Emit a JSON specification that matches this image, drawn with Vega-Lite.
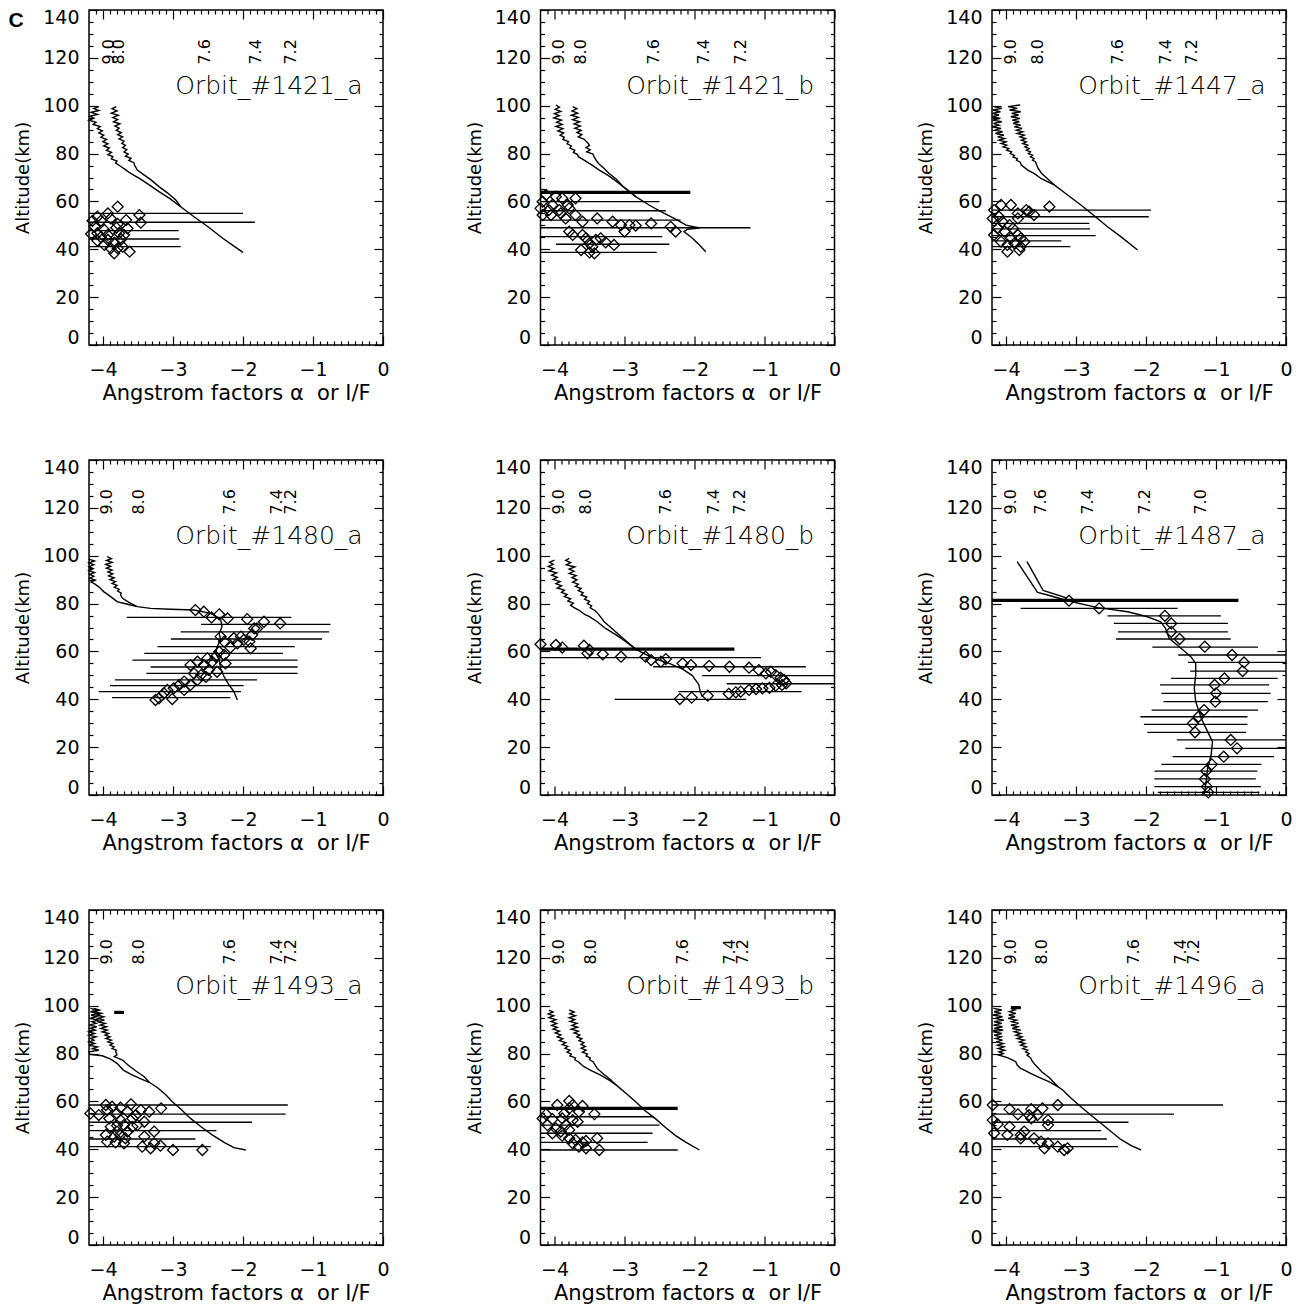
{
"$schema": "https://vega.github.io/schema/vega-lite/v6.json",
"background": "white",
"padding": {"left": 7, "top": 7, "right": 5, "bottom": 5},
"config": {
  "view": {"stroke": "black", "strokeWidth": 1.5},
  "font": "DejaVu Sans",
  "axis": {"domain": false, "grid": false, "tickColor": "black", "tickWidth": 1.2, "labelColor": "black", "titleColor": "black", "labelFont": "DejaVu Sans", "titleFont": "DejaVu Sans", "titleFontWeight": "normal", "labelOverlap": false, "labelFlush": false, "labelBound": false},
  "text": {"font": "DejaVu Sans", "color": "black"}
},
"datasets": {
"tag": [{"t": "C", "alpha": -5.24, "alt": 133}],
"titles": [
{"p":"1421a","t":"Orbit_#1421_a","alpha":-0.29,"alt":105},
{"p":"1421b","t":"Orbit_#1421_b","alpha":-0.29,"alt":105},
{"p":"1447a","t":"Orbit_#1447_a","alpha":-0.29,"alt":105},
{"p":"1480a","t":"Orbit_#1480_a","alpha":-0.29,"alt":105},
{"p":"1480b","t":"Orbit_#1480_b","alpha":-0.29,"alt":105},
{"p":"1487a","t":"Orbit_#1487_a","alpha":-0.29,"alt":105},
{"p":"1493a","t":"Orbit_#1493_a","alpha":-0.29,"alt":105},
{"p":"1493b","t":"Orbit_#1493_b","alpha":-0.29,"alt":105},
{"p":"1496a","t":"Orbit_#1496_a","alpha":-0.29,"alt":105}
],
"labels": [
{"p":"1421a","t":"9.0","alpha":-3.91,"alt":122.5},{"p":"1421a","t":"8.0","alpha":-3.77,"alt":122.5},{"p":"1421a","t":"7.6","alpha":-2.55,"alt":122.5},{"p":"1421a","t":"7.4","alpha":-1.81,"alt":122.5},{"p":"1421a","t":"7.2","alpha":-1.31,"alt":122.5},
{"p":"1421b","t":"9.0","alpha":-3.93,"alt":122.5},{"p":"1421b","t":"8.0","alpha":-3.62,"alt":122.5},{"p":"1421b","t":"7.6","alpha":-2.58,"alt":122.5},{"p":"1421b","t":"7.4","alpha":-1.86,"alt":122.5},{"p":"1421b","t":"7.2","alpha":-1.34,"alt":122.5},
{"p":"1447a","t":"9.0","alpha":-3.93,"alt":122.5},{"p":"1447a","t":"8.0","alpha":-3.55,"alt":122.5},{"p":"1447a","t":"7.6","alpha":-2.40,"alt":122.5},{"p":"1447a","t":"7.4","alpha":-1.71,"alt":122.5},{"p":"1447a","t":"7.2","alpha":-1.35,"alt":122.5},
{"p":"1480a","t":"9.0","alpha":-3.94,"alt":122.5},{"p":"1480a","t":"8.0","alpha":-3.49,"alt":122.5},{"p":"1480a","t":"7.6","alpha":-2.18,"alt":122.5},{"p":"1480a","t":"7.4","alpha":-1.51,"alt":122.5},{"p":"1480a","t":"7.2","alpha":-1.32,"alt":122.5},
{"p":"1480b","t":"9.0","alpha":-3.93,"alt":122.5},{"p":"1480b","t":"8.0","alpha":-3.55,"alt":122.5},{"p":"1480b","t":"7.6","alpha":-2.41,"alt":122.5},{"p":"1480b","t":"7.4","alpha":-1.72,"alt":122.5},{"p":"1480b","t":"7.2","alpha":-1.35,"alt":122.5},
{"p":"1487a","t":"9.0","alpha":-3.93,"alt":122.5},{"p":"1487a","t":"7.6","alpha":-3.50,"alt":122.5},{"p":"1487a","t":"7.4","alpha":-2.83,"alt":122.5},{"p":"1487a","t":"7.2","alpha":-2.02,"alt":122.5},{"p":"1487a","t":"7.0","alpha":-1.21,"alt":122.5},
{"p":"1493a","t":"9.0","alpha":-3.94,"alt":122.5},{"p":"1493a","t":"8.0","alpha":-3.49,"alt":122.5},{"p":"1493a","t":"7.6","alpha":-2.18,"alt":122.5},{"p":"1493a","t":"7.4","alpha":-1.51,"alt":122.5},{"p":"1493a","t":"7.2","alpha":-1.32,"alt":122.5},
{"p":"1493b","t":"9.0","alpha":-3.93,"alt":122.5},{"p":"1493b","t":"8.0","alpha":-3.48,"alt":122.5},{"p":"1493b","t":"7.6","alpha":-2.17,"alt":122.5},{"p":"1493b","t":"7.4","alpha":-1.50,"alt":122.5},{"p":"1493b","t":"7.2","alpha":-1.31,"alt":122.5},
{"p":"1496a","t":"9.0","alpha":-3.93,"alt":122.5},{"p":"1496a","t":"8.0","alpha":-3.48,"alt":122.5},{"p":"1496a","t":"7.6","alpha":-2.17,"alt":122.5},{"p":"1496a","t":"7.4","alpha":-1.50,"alt":122.5},{"p":"1496a","t":"7.2","alpha":-1.31,"alt":122.5}
],
"bars": [
{"p":"1421a","k":"e","alt":55.0,"lo":-4.2,"hi":-2.0},{"p":"1421a","k":"e","alt":51.3,"lo":-4.2,"hi":-1.83},{"p":"1421a","k":"e","alt":47.8,"lo":-4.2,"hi":-2.92},{"p":"1421a","k":"e","alt":44.3,"lo":-4.2,"hi":-2.91},{"p":"1421a","k":"e","alt":41.1,"lo":-4.2,"hi":-2.89},
{"p":"1421b","k":"t","alt":63.8,"lo":-4.2,"hi":-2.06},
{"p":"1421b","k":"e","alt":59.9,"lo":-4.2,"hi":-2.50},{"p":"1421b","k":"e","alt":56.1,"lo":-4.2,"hi":-2.41},{"p":"1421b","k":"e","alt":52.2,"lo":-4.2,"hi":-2.2},{"p":"1421b","k":"e","alt":49.0,"lo":-4.2,"hi":-1.20},{"p":"1421b","k":"e","alt":45.3,"lo":-4.2,"hi":-2.46},{"p":"1421b","k":"e","alt":42.1,"lo":-3.98,"hi":-2.36},{"p":"1421b","k":"e","alt":38.7,"lo":-4.2,"hi":-2.54},
{"p":"1447a","k":"e","alt":56.4,"lo":-4.2,"hi":-1.93},{"p":"1447a","k":"e","alt":53.6,"lo":-4.2,"hi":-1.96},{"p":"1447a","k":"e","alt":50.8,"lo":-4.2,"hi":-2.81},{"p":"1447a","k":"e","alt":48.5,"lo":-4.2,"hi":-2.80},{"p":"1447a","k":"e","alt":45.7,"lo":-4.2,"hi":-2.72},{"p":"1447a","k":"e","alt":43.5,"lo":-4.2,"hi":-3.21},{"p":"1447a","k":"e","alt":41.1,"lo":-4.2,"hi":-3.08},
{"p":"1480a","k":"e","alt":74.2,"lo":-3.66,"hi":-1.31},{"p":"1480a","k":"e","alt":71.3,"lo":-2.60,"hi":-0.75},{"p":"1480a","k":"e","alt":68.2,"lo":-2.89,"hi":-0.77},{"p":"1480a","k":"e","alt":65.2,"lo":-3.03,"hi":-0.87},{"p":"1480a","k":"e","alt":62.0,"lo":-3.22,"hi":-1.26},{"p":"1480a","k":"e","alt":59.2,"lo":-3.41,"hi":-1.43},{"p":"1480a","k":"e","alt":56.4,"lo":-3.58,"hi":-1.22},{"p":"1480a","k":"e","alt":53.5,"lo":-3.32,"hi":-1.22},{"p":"1480a","k":"e","alt":50.8,"lo":-3.38,"hi":-1.22},{"p":"1480a","k":"e","alt":48.1,"lo":-3.83,"hi":-1.80},{"p":"1480a","k":"e","alt":45.7,"lo":-3.90,"hi":-1.99},{"p":"1480a","k":"e","alt":43.2,"lo":-4.06,"hi":-2.03},{"p":"1480a","k":"e","alt":40.7,"lo":-3.87,"hi":-2.18},
{"p":"1480b","k":"t","alt":61.0,"lo":-4.2,"hi":-1.43},
{"p":"1480b","k":"e","alt":57.4,"lo":-4.2,"hi":-1.05},{"p":"1480b","k":"e","alt":53.6,"lo":-2.59,"hi":-0.41},{"p":"1480b","k":"e","alt":49.9,"lo":-1.89,"hi":0},{"p":"1480b","k":"e","alt":46.5,"lo":-1.54,"hi":0},{"p":"1480b","k":"e","alt":43.2,"lo":-2.23,"hi":-0.47},{"p":"1480b","k":"e","alt":40.0,"lo":-3.14,"hi":-1.26},
{"p":"1487a","k":"t","alt":81.3,"lo":-4.2,"hi":-0.68},
{"p":"1487a","k":"e","alt":78.0,"lo":-3.79,"hi":-1.55},{"p":"1487a","k":"e","alt":74.9,"lo":-2.55,"hi":-0.93},{"p":"1487a","k":"e","alt":71.7,"lo":-2.46,"hi":-0.83},{"p":"1487a","k":"e","alt":68.2,"lo":-2.40,"hi":-0.83},{"p":"1487a","k":"e","alt":65.2,"lo":-2.43,"hi":-0.79},{"p":"1487a","k":"e","alt":61.8,"lo":-1.91,"hi":-0.40},{"p":"1487a","k":"e","alt":58.5,"lo":-1.54,"hi":0},{"p":"1487a","k":"e","alt":55.4,"lo":-1.40,"hi":0},{"p":"1487a","k":"e","alt":51.8,"lo":-1.37,"hi":0},{"p":"1487a","k":"e","alt":48.7,"lo":-1.64,"hi":-0.12},{"p":"1487a","k":"e","alt":46.0,"lo":-1.80,"hi":-0.24},{"p":"1487a","k":"e","alt":42.5,"lo":-1.78,"hi":-0.22},{"p":"1487a","k":"e","alt":39.0,"lo":-1.75,"hi":-0.26},{"p":"1487a","k":"e","alt":35.5,"lo":-1.92,"hi":-0.40},{"p":"1487a","k":"e","alt":32.7,"lo":-2.08,"hi":-0.55},{"p":"1487a","k":"e","alt":29.5,"lo":-2.03,"hi":-0.55},{"p":"1487a","k":"e","alt":26.2,"lo":-1.98,"hi":-0.57},{"p":"1487a","k":"e","alt":23.0,"lo":-1.56,"hi":0},{"p":"1487a","k":"e","alt":19.5,"lo":-1.44,"hi":0},{"p":"1487a","k":"e","alt":16.0,"lo":-1.62,"hi":-0.17},{"p":"1487a","k":"e","alt":12.8,"lo":-1.78,"hi":-0.35},{"p":"1487a","k":"e","alt":10.0,"lo":-1.88,"hi":-0.41},{"p":"1487a","k":"e","alt":6.7,"lo":-1.88,"hi":-0.43},{"p":"1487a","k":"e","alt":3.5,"lo":-1.88,"hi":-0.36},{"p":"1487a","k":"e","alt":1.1,"lo":-1.83,"hi":-0.38},
{"p":"1493a","k":"e","alt":58.5,"lo":-4.2,"hi":-1.36},{"p":"1493a","k":"e","alt":54.7,"lo":-4.2,"hi":-1.39},{"p":"1493a","k":"e","alt":51.3,"lo":-4.2,"hi":-1.87},{"p":"1493a","k":"e","alt":47.8,"lo":-4.2,"hi":-2.38},{"p":"1493a","k":"e","alt":44.3,"lo":-4.2,"hi":-2.68},{"p":"1493a","k":"e","alt":41.1,"lo":-4.2,"hi":-2.46},
{"p":"1493a","k":"t","alt":97.2,"lo":-3.84,"hi":-3.70},
{"p":"1493b","k":"t","alt":57.1,"lo":-4.2,"hi":-2.24},
{"p":"1493b","k":"e","alt":53.6,"lo":-4.2,"hi":-2.58},{"p":"1493b","k":"e","alt":50.1,"lo":-4.2,"hi":-2.50},{"p":"1493b","k":"e","alt":46.7,"lo":-4.2,"hi":-2.60},{"p":"1493b","k":"e","alt":42.9,"lo":-4.2,"hi":-2.67},{"p":"1493b","k":"e","alt":39.7,"lo":-4.2,"hi":-2.24},
{"p":"1496a","k":"e","alt":58.5,"lo":-4.2,"hi":-0.90},{"p":"1496a","k":"e","alt":54.7,"lo":-4.2,"hi":-1.60},{"p":"1496a","k":"e","alt":51.3,"lo":-4.2,"hi":-2.25},{"p":"1496a","k":"e","alt":47.8,"lo":-4.2,"hi":-2.64},{"p":"1496a","k":"e","alt":44.3,"lo":-4.2,"hi":-2.56},{"p":"1496a","k":"e","alt":41.1,"lo":-4.2,"hi":-2.40},
{"p":"1496a","k":"t","alt":99.2,"lo":-3.93,"hi":-3.79}
],
"pts": [
{"p":"1421a","alpha":-3.79,"alt":57.8},{"p":"1421a","alpha":-3.48,"alt":54.3},{"p":"1421a","alpha":-3.46,"alt":51.1},{"p":"1421a","alpha":-3.93,"alt":55.0},{"p":"1421a","alpha":-4.08,"alt":53.6},{"p":"1421a","alpha":-4.03,"alt":51.9},{"p":"1421a","alpha":-3.89,"alt":52.9},{"p":"1421a","alpha":-3.67,"alt":52.2},{"p":"1421a","alpha":-3.79,"alt":50.6},{"p":"1421a","alpha":-3.65,"alt":48.7},{"p":"1421a","alpha":-3.81,"alt":49.0},{"p":"1421a","alpha":-3.98,"alt":48.1},{"p":"1421a","alpha":-4.12,"alt":49.4},{"p":"1421a","alpha":-4.08,"alt":46.7},{"p":"1421a","alpha":-4.03,"alt":45.0},{"p":"1421a","alpha":-3.93,"alt":43.9},{"p":"1421a","alpha":-3.84,"alt":42.8},{"p":"1421a","alpha":-3.74,"alt":44.2},{"p":"1421a","alpha":-3.77,"alt":46.7},{"p":"1421a","alpha":-3.89,"alt":40.4},{"p":"1421a","alpha":-3.79,"alt":40.4},{"p":"1421a","alpha":-3.62,"alt":39.0},{"p":"1421a","alpha":-3.98,"alt":41.8},{"p":"1421a","alpha":-4.08,"alt":43.6},{"p":"1421a","alpha":-4.17,"alt":46.4},{"p":"1421a","alpha":-4.15,"alt":51.9},{"p":"1421a","alpha":-3.72,"alt":41.1},{"p":"1421a","alpha":-3.84,"alt":38.3},{"p":"1421a","alpha":-3.93,"alt":46.0},{"p":"1421a","alpha":-3.70,"alt":46.0},
{"p":"1421b","alpha":-4.12,"alt":62.7},{"p":"1421b","alpha":-3.98,"alt":62.0},{"p":"1421b","alpha":-3.89,"alt":61.3},{"p":"1421b","alpha":-3.70,"alt":61.3},{"p":"1421b","alpha":-4.17,"alt":59.9},{"p":"1421b","alpha":-4.03,"alt":58.5},{"p":"1421b","alpha":-3.81,"alt":58.5},{"p":"1421b","alpha":-4.20,"alt":57.1},{"p":"1421b","alpha":-4.08,"alt":56.4},{"p":"1421b","alpha":-3.93,"alt":56.4},{"p":"1421b","alpha":-3.79,"alt":57.1},{"p":"1421b","alpha":-4.17,"alt":54.3},{"p":"1421b","alpha":-4.05,"alt":54.3},{"p":"1421b","alpha":-3.91,"alt":55.0},{"p":"1421b","alpha":-3.84,"alt":52.9},{"p":"1421b","alpha":-3.70,"alt":54.3},{"p":"1421b","alpha":-3.60,"alt":51.5},{"p":"1421b","alpha":-3.39,"alt":52.9},{"p":"1421b","alpha":-3.17,"alt":51.5},{"p":"1421b","alpha":-3.05,"alt":50.1},{"p":"1421b","alpha":-2.93,"alt":50.1},{"p":"1421b","alpha":-2.84,"alt":49.9},{"p":"1421b","alpha":-2.62,"alt":50.8},{"p":"1421b","alpha":-2.34,"alt":49.4},{"p":"1421b","alpha":-2.27,"alt":47.4},{"p":"1421b","alpha":-3.00,"alt":47.4},{"p":"1421b","alpha":-3.79,"alt":47.4},{"p":"1421b","alpha":-3.74,"alt":46.0},{"p":"1421b","alpha":-3.60,"alt":46.0},{"p":"1421b","alpha":-3.55,"alt":44.6},{"p":"1421b","alpha":-3.50,"alt":42.5},{"p":"1421b","alpha":-3.41,"alt":43.9},{"p":"1421b","alpha":-3.34,"alt":44.6},{"p":"1421b","alpha":-3.27,"alt":42.9},{"p":"1421b","alpha":-3.15,"alt":41.8},{"p":"1421b","alpha":-3.62,"alt":39.7},{"p":"1421b","alpha":-3.50,"alt":38.7},{"p":"1421b","alpha":-3.43,"alt":38.3},{"p":"1421b","alpha":-3.46,"alt":41.1},
{"p":"1447a","alpha":-4.07,"alt":58.5},{"p":"1447a","alpha":-3.93,"alt":58.5},{"p":"1447a","alpha":-3.38,"alt":57.8},{"p":"1447a","alpha":-3.71,"alt":56.4},{"p":"1447a","alpha":-3.83,"alt":55.0},{"p":"1447a","alpha":-3.67,"alt":55.7},{"p":"1447a","alpha":-3.60,"alt":54.3},{"p":"1447a","alpha":-4.17,"alt":56.4},{"p":"1447a","alpha":-4.19,"alt":52.9},{"p":"1447a","alpha":-4.05,"alt":51.5},{"p":"1447a","alpha":-3.95,"alt":50.1},{"p":"1447a","alpha":-4.12,"alt":48.7},{"p":"1447a","alpha":-4.02,"alt":47.4},{"p":"1447a","alpha":-3.90,"alt":48.7},{"p":"1447a","alpha":-3.83,"alt":46.0},{"p":"1447a","alpha":-3.79,"alt":44.6},{"p":"1447a","alpha":-3.93,"alt":44.6},{"p":"1447a","alpha":-3.98,"alt":41.8},{"p":"1447a","alpha":-4.07,"alt":43.2},{"p":"1447a","alpha":-3.88,"alt":42.5},{"p":"1447a","alpha":-3.79,"alt":41.1},{"p":"1447a","alpha":-3.98,"alt":39.0},{"p":"1447a","alpha":-3.81,"alt":39.7},{"p":"1447a","alpha":-4.17,"alt":46.0},{"p":"1447a","alpha":-3.74,"alt":43.2},{"p":"1447a","alpha":-4.10,"alt":53.6},{"p":"1447a","alpha":-3.83,"alt":52.9},
{"p":"1480a","alpha":-2.68,"alt":77.3},{"p":"1480a","alpha":-2.56,"alt":76.6},{"p":"1480a","alpha":-2.45,"alt":74.2},{"p":"1480a","alpha":-2.34,"alt":75.5},{"p":"1480a","alpha":-2.22,"alt":73.8},{"p":"1480a","alpha":-1.94,"alt":73.5},{"p":"1480a","alpha":-1.70,"alt":72.4},{"p":"1480a","alpha":-1.47,"alt":71.7},{"p":"1480a","alpha":-1.80,"alt":69.6},{"p":"1480a","alpha":-1.87,"alt":66.9},{"p":"1480a","alpha":-1.99,"alt":64.8},{"p":"1480a","alpha":-2.08,"alt":63.4},{"p":"1480a","alpha":-2.03,"alt":66.2},{"p":"1480a","alpha":-2.32,"alt":66.2},{"p":"1480a","alpha":-2.27,"alt":64.1},{"p":"1480a","alpha":-2.18,"alt":61.6},{"p":"1480a","alpha":-2.34,"alt":59.9},{"p":"1480a","alpha":-2.39,"alt":57.8},{"p":"1480a","alpha":-2.44,"alt":55.7},{"p":"1480a","alpha":-2.56,"alt":54.3},{"p":"1480a","alpha":-2.65,"alt":55.7},{"p":"1480a","alpha":-2.75,"alt":54.3},{"p":"1480a","alpha":-2.70,"alt":50.8},{"p":"1480a","alpha":-2.60,"alt":50.1},{"p":"1480a","alpha":-2.49,"alt":52.2},{"p":"1480a","alpha":-2.25,"alt":55.0},{"p":"1480a","alpha":-2.37,"alt":51.5},{"p":"1480a","alpha":-2.84,"alt":47.4},{"p":"1480a","alpha":-2.91,"alt":46.0},{"p":"1480a","alpha":-2.99,"alt":44.6},{"p":"1480a","alpha":-3.08,"alt":43.9},{"p":"1480a","alpha":-3.13,"alt":42.5},{"p":"1480a","alpha":-3.20,"alt":40.4},{"p":"1480a","alpha":-3.25,"alt":39.7},{"p":"1480a","alpha":-3.01,"alt":40.1},{"p":"1480a","alpha":-2.84,"alt":43.9},{"p":"1480a","alpha":-2.75,"alt":46.0},{"p":"1480a","alpha":-2.65,"alt":48.1},{"p":"1480a","alpha":-2.53,"alt":49.4},{"p":"1480a","alpha":-1.89,"alt":61.3},{"p":"1480a","alpha":-1.91,"alt":64.1},{"p":"1480a","alpha":-1.84,"alt":69.6},{"p":"1480a","alpha":-2.13,"alt":65.5},{"p":"1480a","alpha":-2.27,"alt":58.5},{"p":"1480a","alpha":-2.51,"alt":57.1},
{"p":"1480b","alpha":-4.20,"alt":63.0},{"p":"1480b","alpha":-3.98,"alt":62.7},{"p":"1480b","alpha":-3.89,"alt":61.6},{"p":"1480b","alpha":-3.58,"alt":62.4},{"p":"1480b","alpha":-3.50,"alt":60.6},{"p":"1480b","alpha":-3.53,"alt":59.2},{"p":"1480b","alpha":-3.31,"alt":58.8},{"p":"1480b","alpha":-3.05,"alt":57.8},{"p":"1480b","alpha":-2.70,"alt":57.8},{"p":"1480b","alpha":-2.62,"alt":56.4},{"p":"1480b","alpha":-2.48,"alt":55.7},{"p":"1480b","alpha":-2.41,"alt":56.8},{"p":"1480b","alpha":-2.17,"alt":55.0},{"p":"1480b","alpha":-2.05,"alt":54.3},{"p":"1480b","alpha":-1.79,"alt":54.0},{"p":"1480b","alpha":-1.50,"alt":53.6},{"p":"1480b","alpha":-1.22,"alt":53.2},{"p":"1480b","alpha":-1.08,"alt":52.2},{"p":"1480b","alpha":-0.98,"alt":50.8},{"p":"1480b","alpha":-0.91,"alt":51.5},{"p":"1480b","alpha":-0.84,"alt":50.1},{"p":"1480b","alpha":-0.77,"alt":49.0},{"p":"1480b","alpha":-0.72,"alt":48.1},{"p":"1480b","alpha":-0.69,"alt":46.7},{"p":"1480b","alpha":-0.75,"alt":46.0},{"p":"1480b","alpha":-0.84,"alt":45.7},{"p":"1480b","alpha":-0.93,"alt":44.8},{"p":"1480b","alpha":-1.03,"alt":44.6},{"p":"1480b","alpha":-1.12,"alt":44.3},{"p":"1480b","alpha":-1.22,"alt":43.9},{"p":"1480b","alpha":-1.34,"alt":43.2},{"p":"1480b","alpha":-1.41,"alt":42.9},{"p":"1480b","alpha":-1.51,"alt":42.3},{"p":"1480b","alpha":-1.81,"alt":41.5},{"p":"1480b","alpha":-2.04,"alt":40.7},{"p":"1480b","alpha":-2.21,"alt":40.1},
{"p":"1487a","alpha":-3.10,"alt":81.2},{"p":"1487a","alpha":-2.67,"alt":78.0},{"p":"1487a","alpha":-1.73,"alt":74.9},{"p":"1487a","alpha":-1.64,"alt":71.7},{"p":"1487a","alpha":-1.64,"alt":68.2},{"p":"1487a","alpha":-1.52,"alt":65.2},{"p":"1487a","alpha":-1.16,"alt":62.0},{"p":"1487a","alpha":-0.77,"alt":58.5},{"p":"1487a","alpha":-0.60,"alt":55.4},{"p":"1487a","alpha":-0.62,"alt":51.8},{"p":"1487a","alpha":-0.88,"alt":48.7},{"p":"1487a","alpha":-1.02,"alt":46.0},{"p":"1487a","alpha":-1.00,"alt":42.5},{"p":"1487a","alpha":-1.01,"alt":39.0},{"p":"1487a","alpha":-1.17,"alt":35.5},{"p":"1487a","alpha":-1.25,"alt":32.7},{"p":"1487a","alpha":-1.33,"alt":29.9},{"p":"1487a","alpha":-1.30,"alt":26.2},{"p":"1487a","alpha":-0.79,"alt":23.0},{"p":"1487a","alpha":-0.70,"alt":19.5},{"p":"1487a","alpha":-0.89,"alt":16.0},{"p":"1487a","alpha":-1.06,"alt":12.8},{"p":"1487a","alpha":-1.14,"alt":10.0},{"p":"1487a","alpha":-1.16,"alt":6.7},{"p":"1487a","alpha":-1.13,"alt":3.5},{"p":"1487a","alpha":-1.11,"alt":1.1},
{"p":"1493a","alpha":-3.96,"alt":58.5},{"p":"1493a","alpha":-3.87,"alt":57.8},{"p":"1493a","alpha":-3.75,"alt":57.4},{"p":"1493a","alpha":-3.60,"alt":58.8},{"p":"1493a","alpha":-3.17,"alt":57.1},{"p":"1493a","alpha":-3.34,"alt":55.7},{"p":"1493a","alpha":-3.46,"alt":56.4},{"p":"1493a","alpha":-3.53,"alt":54.3},{"p":"1493a","alpha":-3.65,"alt":55.7},{"p":"1493a","alpha":-3.80,"alt":55.0},{"p":"1493a","alpha":-3.94,"alt":56.4},{"p":"1493a","alpha":-4.18,"alt":55.0},{"p":"1493a","alpha":-4.06,"alt":54.3},{"p":"1493a","alpha":-3.91,"alt":52.9},{"p":"1493a","alpha":-3.75,"alt":52.2},{"p":"1493a","alpha":-3.58,"alt":52.9},{"p":"1493a","alpha":-3.41,"alt":51.5},{"p":"1493a","alpha":-3.70,"alt":50.1},{"p":"1493a","alpha":-3.80,"alt":49.9},{"p":"1493a","alpha":-3.89,"alt":49.4},{"p":"1493a","alpha":-3.51,"alt":50.1},{"p":"1493a","alpha":-3.27,"alt":47.4},{"p":"1493a","alpha":-3.65,"alt":47.4},{"p":"1493a","alpha":-3.80,"alt":47.4},{"p":"1493a","alpha":-3.96,"alt":46.0},{"p":"1493a","alpha":-3.84,"alt":45.3},{"p":"1493a","alpha":-3.75,"alt":46.0},{"p":"1493a","alpha":-3.68,"alt":44.6},{"p":"1493a","alpha":-3.94,"alt":43.2},{"p":"1493a","alpha":-3.82,"alt":42.9},{"p":"1493a","alpha":-3.70,"alt":42.5},{"p":"1493a","alpha":-3.44,"alt":41.1},{"p":"1493a","alpha":-3.32,"alt":40.4},{"p":"1493a","alpha":-3.18,"alt":41.5},{"p":"1493a","alpha":-3.00,"alt":39.7},{"p":"1493a","alpha":-2.58,"alt":39.7},{"p":"1493a","alpha":-3.27,"alt":42.5},{"p":"1493a","alpha":-3.41,"alt":45.3},{"p":"1493a","alpha":-3.58,"alt":49.4},
{"p":"1493b","alpha":-3.96,"alt":58.5},{"p":"1493b","alpha":-3.79,"alt":60.2},{"p":"1493b","alpha":-3.74,"alt":58.5},{"p":"1493b","alpha":-3.60,"alt":58.1},{"p":"1493b","alpha":-3.43,"alt":54.7},{"p":"1493b","alpha":-3.65,"alt":55.7},{"p":"1493b","alpha":-3.79,"alt":57.1},{"p":"1493b","alpha":-3.86,"alt":55.0},{"p":"1493b","alpha":-4.12,"alt":54.6},{"p":"1493b","alpha":-4.03,"alt":52.6},{"p":"1493b","alpha":-3.89,"alt":52.9},{"p":"1493b","alpha":-3.74,"alt":52.2},{"p":"1493b","alpha":-3.67,"alt":51.5},{"p":"1493b","alpha":-3.84,"alt":50.1},{"p":"1493b","alpha":-4.10,"alt":50.1},{"p":"1493b","alpha":-3.98,"alt":48.7},{"p":"1493b","alpha":-3.91,"alt":47.4},{"p":"1493b","alpha":-3.79,"alt":48.1},{"p":"1493b","alpha":-4.03,"alt":46.7},{"p":"1493b","alpha":-3.89,"alt":45.7},{"p":"1493b","alpha":-3.79,"alt":44.6},{"p":"1493b","alpha":-3.70,"alt":43.9},{"p":"1493b","alpha":-3.60,"alt":42.9},{"p":"1493b","alpha":-3.55,"alt":43.5},{"p":"1493b","alpha":-3.39,"alt":44.6},{"p":"1493b","alpha":-3.74,"alt":42.5},{"p":"1493b","alpha":-3.65,"alt":41.1},{"p":"1493b","alpha":-3.55,"alt":40.4},{"p":"1493b","alpha":-3.36,"alt":39.7},{"p":"1493b","alpha":-4.17,"alt":52.9},
{"p":"1496a","alpha":-4.19,"alt":58.5},{"p":"1496a","alpha":-3.26,"alt":58.5},{"p":"1496a","alpha":-3.95,"alt":56.8},{"p":"1496a","alpha":-3.64,"alt":56.8},{"p":"1496a","alpha":-3.48,"alt":57.1},{"p":"1496a","alpha":-3.83,"alt":54.6},{"p":"1496a","alpha":-3.67,"alt":54.3},{"p":"1496a","alpha":-3.55,"alt":54.3},{"p":"1496a","alpha":-3.40,"alt":52.2},{"p":"1496a","alpha":-3.40,"alt":50.1},{"p":"1496a","alpha":-4.12,"alt":50.5},{"p":"1496a","alpha":-4.19,"alt":52.2},{"p":"1496a","alpha":-3.95,"alt":49.4},{"p":"1496a","alpha":-4.17,"alt":46.7},{"p":"1496a","alpha":-3.79,"alt":46.0},{"p":"1496a","alpha":-3.74,"alt":47.4},{"p":"1496a","alpha":-3.60,"alt":44.6},{"p":"1496a","alpha":-3.50,"alt":43.2},{"p":"1496a","alpha":-3.40,"alt":42.5},{"p":"1496a","alpha":-3.45,"alt":40.4},{"p":"1496a","alpha":-3.26,"alt":41.1},{"p":"1496a","alpha":-3.17,"alt":39.7},{"p":"1496a","alpha":-3.12,"alt":40.4},{"p":"1496a","alpha":-3.98,"alt":46.0},{"p":"1496a","alpha":-3.79,"alt":44.6},{"p":"1496a","alpha":-3.64,"alt":52.9}
],
"lines": [
{"p":"1421a","s":"L","alt":99.6,"alpha":-4.06},{"p":"1421a","s":"L","alt":98.8,"alpha":-4.13},{"p":"1421a","s":"L","alt":98.0,"alpha":-4.06},{"p":"1421a","s":"L","alt":97.2,"alpha":-4.17},{"p":"1421a","s":"L","alt":96.4,"alpha":-4.08},{"p":"1421a","s":"L","alt":95.6,"alpha":-4.19},{"p":"1421a","s":"L","alt":94.8,"alpha":-4.13},{"p":"1421a","s":"L","alt":94.0,"alpha":-4.20},{"p":"1421a","s":"L","alt":93.1,"alpha":-4.10},{"p":"1421a","s":"L","alt":92.2,"alpha":-4.14},{"p":"1421a","s":"L","alt":91.3,"alpha":-4.04},{"p":"1421a","s":"L","alt":90.4,"alpha":-4.08},{"p":"1421a","s":"L","alt":89.5,"alpha":-4.01},{"p":"1421a","s":"L","alt":88.6,"alpha":-4.06},{"p":"1421a","s":"L","alt":87.7,"alpha":-3.99},{"p":"1421a","s":"L","alt":86.8,"alpha":-4.03},{"p":"1421a","s":"L","alt":85.9,"alpha":-3.95},{"p":"1421a","s":"L","alt":85.0,"alpha":-4.00},{"p":"1421a","s":"L","alt":84.1,"alpha":-3.93},{"p":"1421a","s":"L","alt":83.2,"alpha":-3.99},{"p":"1421a","s":"L","alt":82.3,"alpha":-3.91},{"p":"1421a","s":"L","alt":81.4,"alpha":-3.95},{"p":"1421a","s":"L","alt":80.5,"alpha":-3.88},{"p":"1421a","s":"L","alt":79.6,"alpha":-3.93},{"p":"1421a","s":"L","alt":78.7,"alpha":-3.86},{"p":"1421a","s":"L","alt":77.8,"alpha":-3.88},{"p":"1421a","s":"L","alt":76.9,"alpha":-3.80},{"p":"1421a","s":"L","alt":76.0,"alpha":-3.82},{"p":"1421a","s":"L","alt":74.5,"alpha":-3.74},{"p":"1421a","s":"L","alt":73.3,"alpha":-3.68},{"p":"1421a","s":"L","alt":72.0,"alpha":-3.62},{"p":"1421a","s":"L","alt":70.8,"alpha":-3.55},{"p":"1421a","s":"L","alt":69.6,"alpha":-3.48},{"p":"1421a","s":"L","alt":66.9,"alpha":-3.34},{"p":"1421a","s":"L","alt":64.1,"alpha":-3.20},{"p":"1421a","s":"L","alt":61.3,"alpha":-3.05},{"p":"1421a","s":"L","alt":57.8,"alpha":-2.89},{"p":"1421a","s":"L","alt":53.6,"alpha":-2.70},{"p":"1421a","s":"L","alt":49.4,"alpha":-2.50},{"p":"1421a","s":"L","alt":44.6,"alpha":-2.29},{"p":"1421a","s":"L","alt":41.1,"alpha":-2.12},{"p":"1421a","s":"L","alt":38.7,"alpha":-2.00},
{"p":"1421a","s":"R","alt":99.6,"alpha":-3.81},{"p":"1421a","s":"R","alt":98.7,"alpha":-3.87},{"p":"1421a","s":"R","alt":97.8,"alpha":-3.80},{"p":"1421a","s":"R","alt":96.9,"alpha":-3.88},{"p":"1421a","s":"R","alt":96.0,"alpha":-3.78},{"p":"1421a","s":"R","alt":95.1,"alpha":-3.86},{"p":"1421a","s":"R","alt":94.2,"alpha":-3.79},{"p":"1421a","s":"R","alt":93.3,"alpha":-3.85},{"p":"1421a","s":"R","alt":92.4,"alpha":-3.76},{"p":"1421a","s":"R","alt":91.5,"alpha":-3.83},{"p":"1421a","s":"R","alt":90.6,"alpha":-3.77},{"p":"1421a","s":"R","alt":89.7,"alpha":-3.81},{"p":"1421a","s":"R","alt":88.8,"alpha":-3.74},{"p":"1421a","s":"R","alt":87.9,"alpha":-3.79},{"p":"1421a","s":"R","alt":87.0,"alpha":-3.72},{"p":"1421a","s":"R","alt":86.1,"alpha":-3.77},{"p":"1421a","s":"R","alt":85.2,"alpha":-3.70},{"p":"1421a","s":"R","alt":84.3,"alpha":-3.73},{"p":"1421a","s":"R","alt":83.4,"alpha":-3.68},{"p":"1421a","s":"R","alt":82.5,"alpha":-3.72},{"p":"1421a","s":"R","alt":81.6,"alpha":-3.66},{"p":"1421a","s":"R","alt":80.7,"alpha":-3.70},{"p":"1421a","s":"R","alt":79.8,"alpha":-3.64},{"p":"1421a","s":"R","alt":78.9,"alpha":-3.68},{"p":"1421a","s":"R","alt":78.0,"alpha":-3.60},{"p":"1421a","s":"R","alt":77.1,"alpha":-3.63},{"p":"1421a","s":"R","alt":76.2,"alpha":-3.56},{"p":"1421a","s":"R","alt":75.2,"alpha":-3.55},{"p":"1421a","s":"R","alt":73.1,"alpha":-3.51},{"p":"1421a","s":"R","alt":71.0,"alpha":-3.41},{"p":"1421a","s":"R","alt":68.9,"alpha":-3.31},{"p":"1421a","s":"R","alt":66.2,"alpha":-3.20},{"p":"1421a","s":"R","alt":63.6,"alpha":-3.08},{"p":"1421a","s":"R","alt":60.6,"alpha":-2.96},{"p":"1421a","s":"R","alt":57.8,"alpha":-2.89},
{"p":"1421b","s":"L","alt":100.3,"alpha":-3.98},{"p":"1421b","s":"L","alt":99.4,"alpha":-3.93},{"p":"1421b","s":"L","alt":98.5,"alpha":-3.99},{"p":"1421b","s":"L","alt":97.6,"alpha":-3.91},{"p":"1421b","s":"L","alt":96.7,"alpha":-4.00},{"p":"1421b","s":"L","alt":95.8,"alpha":-3.93},{"p":"1421b","s":"L","alt":94.9,"alpha":-4.01},{"p":"1421b","s":"L","alt":94.0,"alpha":-3.90},{"p":"1421b","s":"L","alt":93.1,"alpha":-3.97},{"p":"1421b","s":"L","alt":92.2,"alpha":-3.89},{"p":"1421b","s":"L","alt":91.3,"alpha":-3.98},{"p":"1421b","s":"L","alt":90.4,"alpha":-3.88},{"p":"1421b","s":"L","alt":89.5,"alpha":-3.95},{"p":"1421b","s":"L","alt":88.6,"alpha":-3.87},{"p":"1421b","s":"L","alt":87.7,"alpha":-3.92},{"p":"1421b","s":"L","alt":86.8,"alpha":-3.86},{"p":"1421b","s":"L","alt":85.9,"alpha":-3.88},{"p":"1421b","s":"L","alt":85.0,"alpha":-3.80},{"p":"1421b","s":"L","alt":84.1,"alpha":-3.82},{"p":"1421b","s":"L","alt":83.2,"alpha":-3.76},{"p":"1421b","s":"L","alt":82.3,"alpha":-3.78},{"p":"1421b","s":"L","alt":81.4,"alpha":-3.71},{"p":"1421b","s":"L","alt":80.5,"alpha":-3.73},{"p":"1421b","s":"L","alt":79.6,"alpha":-3.67},{"p":"1421b","s":"L","alt":78.7,"alpha":-3.66},{"p":"1421b","s":"L","alt":77.7,"alpha":-3.60},{"p":"1421b","s":"L","alt":75.5,"alpha":-3.48},{"p":"1421b","s":"L","alt":73.1,"alpha":-3.36},{"p":"1421b","s":"L","alt":71.0,"alpha":-3.24},{"p":"1421b","s":"L","alt":68.5,"alpha":-3.12},{"p":"1421b","s":"L","alt":65.7,"alpha":-3.00},{"p":"1421b","s":"L","alt":62.0,"alpha":-2.84},{"p":"1421b","s":"L","alt":58.5,"alpha":-2.65},{"p":"1421b","s":"L","alt":55.4,"alpha":-2.46},{"p":"1421b","s":"L","alt":52.6,"alpha":-2.27},{"p":"1421b","s":"L","alt":50.1,"alpha":-2.12},{"p":"1421b","s":"L","alt":48.9,"alpha":-1.93},{"p":"1421b","s":"L","alt":48.4,"alpha":-2.10},{"p":"1421b","s":"L","alt":47.4,"alpha":-2.15},{"p":"1421b","s":"L","alt":44.6,"alpha":-2.03},{"p":"1421b","s":"L","alt":41.8,"alpha":-1.93},{"p":"1421b","s":"L","alt":39.0,"alpha":-1.84},
{"p":"1421b","s":"R","alt":99.6,"alpha":-3.74},{"p":"1421b","s":"R","alt":98.7,"alpha":-3.68},{"p":"1421b","s":"R","alt":97.8,"alpha":-3.75},{"p":"1421b","s":"R","alt":96.9,"alpha":-3.67},{"p":"1421b","s":"R","alt":96.0,"alpha":-3.76},{"p":"1421b","s":"R","alt":95.1,"alpha":-3.66},{"p":"1421b","s":"R","alt":94.2,"alpha":-3.74},{"p":"1421b","s":"R","alt":93.3,"alpha":-3.64},{"p":"1421b","s":"R","alt":92.4,"alpha":-3.72},{"p":"1421b","s":"R","alt":91.5,"alpha":-3.63},{"p":"1421b","s":"R","alt":90.6,"alpha":-3.71},{"p":"1421b","s":"R","alt":89.7,"alpha":-3.62},{"p":"1421b","s":"R","alt":88.8,"alpha":-3.68},{"p":"1421b","s":"R","alt":87.9,"alpha":-3.61},{"p":"1421b","s":"R","alt":87.0,"alpha":-3.66},{"p":"1421b","s":"R","alt":86.1,"alpha":-3.58},{"p":"1421b","s":"R","alt":85.2,"alpha":-3.55},{"p":"1421b","s":"R","alt":84.3,"alpha":-3.52},{"p":"1421b","s":"R","alt":83.4,"alpha":-3.50},{"p":"1421b","s":"R","alt":82.5,"alpha":-3.55},{"p":"1421b","s":"R","alt":81.6,"alpha":-3.49},{"p":"1421b","s":"R","alt":80.7,"alpha":-3.54},{"p":"1421b","s":"R","alt":79.8,"alpha":-3.45},{"p":"1421b","s":"R","alt":78.9,"alpha":-3.44},{"p":"1421b","s":"R","alt":77.0,"alpha":-3.40},{"p":"1421b","s":"R","alt":75.5,"alpha":-3.36},{"p":"1421b","s":"R","alt":73.8,"alpha":-3.29},{"p":"1421b","s":"R","alt":71.7,"alpha":-3.22},{"p":"1421b","s":"R","alt":69.4,"alpha":-3.12},{"p":"1421b","s":"R","alt":66.2,"alpha":-3.02},{"p":"1421b","s":"R","alt":62.0,"alpha":-2.84},
{"p":"1447a","s":"L","alt":99.6,"alpha":-4.17},{"p":"1447a","s":"L","alt":98.9,"alpha":-4.06},{"p":"1447a","s":"L","alt":98.2,"alpha":-4.19},{"p":"1447a","s":"L","alt":97.5,"alpha":-4.08},{"p":"1447a","s":"L","alt":96.8,"alpha":-4.20},{"p":"1447a","s":"L","alt":96.1,"alpha":-4.10},{"p":"1447a","s":"L","alt":95.4,"alpha":-4.20},{"p":"1447a","s":"L","alt":94.7,"alpha":-4.08},{"p":"1447a","s":"L","alt":94.0,"alpha":-4.19},{"p":"1447a","s":"L","alt":93.3,"alpha":-4.06},{"p":"1447a","s":"L","alt":92.6,"alpha":-4.18},{"p":"1447a","s":"L","alt":91.9,"alpha":-4.10},{"p":"1447a","s":"L","alt":91.2,"alpha":-4.20},{"p":"1447a","s":"L","alt":90.5,"alpha":-4.07},{"p":"1447a","s":"L","alt":89.8,"alpha":-4.16},{"p":"1447a","s":"L","alt":89.1,"alpha":-4.05},{"p":"1447a","s":"L","alt":88.4,"alpha":-4.15},{"p":"1447a","s":"L","alt":87.7,"alpha":-4.03},{"p":"1447a","s":"L","alt":87.0,"alpha":-4.12},{"p":"1447a","s":"L","alt":86.3,"alpha":-4.02},{"p":"1447a","s":"L","alt":85.6,"alpha":-4.10},{"p":"1447a","s":"L","alt":84.9,"alpha":-4.00},{"p":"1447a","s":"L","alt":84.2,"alpha":-4.07},{"p":"1447a","s":"L","alt":83.5,"alpha":-3.99},{"p":"1447a","s":"L","alt":82.8,"alpha":-4.04},{"p":"1447a","s":"L","alt":82.1,"alpha":-3.96},{"p":"1447a","s":"L","alt":81.4,"alpha":-3.99},{"p":"1447a","s":"L","alt":80.7,"alpha":-3.92},{"p":"1447a","s":"L","alt":80.0,"alpha":-3.94},{"p":"1447a","s":"L","alt":79.3,"alpha":-3.88},{"p":"1447a","s":"L","alt":78.6,"alpha":-3.90},{"p":"1447a","s":"L","alt":77.9,"alpha":-3.84},{"p":"1447a","s":"L","alt":77.2,"alpha":-3.85},{"p":"1447a","s":"L","alt":76.5,"alpha":-3.80},{"p":"1447a","s":"L","alt":75.2,"alpha":-3.78},{"p":"1447a","s":"L","alt":73.1,"alpha":-3.69},{"p":"1447a","s":"L","alt":71.7,"alpha":-3.60},{"p":"1447a","s":"L","alt":69.6,"alpha":-3.50},{"p":"1447a","s":"L","alt":68.2,"alpha":-3.40},{"p":"1447a","s":"L","alt":66.9,"alpha":-3.31},{"p":"1447a","s":"L","alt":62.7,"alpha":-3.12},{"p":"1447a","s":"L","alt":58.5,"alpha":-2.93},{"p":"1447a","s":"L","alt":54.0,"alpha":-2.74},{"p":"1447a","s":"L","alt":49.4,"alpha":-2.55},{"p":"1447a","s":"L","alt":45.3,"alpha":-2.36},{"p":"1447a","s":"L","alt":39.7,"alpha":-2.12},
{"p":"1447a","s":"R","alt":100.3,"alpha":-3.80},{"p":"1447a","s":"R","alt":99.6,"alpha":-3.97},{"p":"1447a","s":"R","alt":98.9,"alpha":-3.84},{"p":"1447a","s":"R","alt":98.2,"alpha":-3.95},{"p":"1447a","s":"R","alt":97.5,"alpha":-3.79},{"p":"1447a","s":"R","alt":96.8,"alpha":-3.92},{"p":"1447a","s":"R","alt":96.1,"alpha":-3.82},{"p":"1447a","s":"R","alt":95.4,"alpha":-3.93},{"p":"1447a","s":"R","alt":94.7,"alpha":-3.80},{"p":"1447a","s":"R","alt":94.0,"alpha":-3.91},{"p":"1447a","s":"R","alt":93.3,"alpha":-3.81},{"p":"1447a","s":"R","alt":92.6,"alpha":-3.90},{"p":"1447a","s":"R","alt":91.9,"alpha":-3.79},{"p":"1447a","s":"R","alt":91.2,"alpha":-3.88},{"p":"1447a","s":"R","alt":90.5,"alpha":-3.77},{"p":"1447a","s":"R","alt":89.8,"alpha":-3.85},{"p":"1447a","s":"R","alt":89.1,"alpha":-3.76},{"p":"1447a","s":"R","alt":88.4,"alpha":-3.84},{"p":"1447a","s":"R","alt":87.7,"alpha":-3.74},{"p":"1447a","s":"R","alt":87.0,"alpha":-3.80},{"p":"1447a","s":"R","alt":86.3,"alpha":-3.72},{"p":"1447a","s":"R","alt":85.6,"alpha":-3.78},{"p":"1447a","s":"R","alt":84.9,"alpha":-3.71},{"p":"1447a","s":"R","alt":84.2,"alpha":-3.76},{"p":"1447a","s":"R","alt":83.5,"alpha":-3.69},{"p":"1447a","s":"R","alt":82.8,"alpha":-3.73},{"p":"1447a","s":"R","alt":82.1,"alpha":-3.67},{"p":"1447a","s":"R","alt":81.4,"alpha":-3.71},{"p":"1447a","s":"R","alt":80.7,"alpha":-3.65},{"p":"1447a","s":"R","alt":80.0,"alpha":-3.68},{"p":"1447a","s":"R","alt":79.3,"alpha":-3.62},{"p":"1447a","s":"R","alt":78.6,"alpha":-3.65},{"p":"1447a","s":"R","alt":77.9,"alpha":-3.60},{"p":"1447a","s":"R","alt":77.2,"alpha":-3.62},{"p":"1447a","s":"R","alt":76.6,"alpha":-3.58},{"p":"1447a","s":"R","alt":73.8,"alpha":-3.54},{"p":"1447a","s":"R","alt":71.7,"alpha":-3.49},{"p":"1447a","s":"R","alt":69.6,"alpha":-3.41},{"p":"1447a","s":"R","alt":66.9,"alpha":-3.31},
{"p":"1480a","s":"L","alt":98.6,"alpha":-4.20},{"p":"1480a","s":"L","alt":97.8,"alpha":-4.12},{"p":"1480a","s":"L","alt":97.0,"alpha":-4.20},{"p":"1480a","s":"L","alt":96.2,"alpha":-4.13},{"p":"1480a","s":"L","alt":95.4,"alpha":-4.20},{"p":"1480a","s":"L","alt":94.6,"alpha":-4.14},{"p":"1480a","s":"L","alt":93.8,"alpha":-4.20},{"p":"1480a","s":"L","alt":93.0,"alpha":-4.12},{"p":"1480a","s":"L","alt":92.2,"alpha":-4.19},{"p":"1480a","s":"L","alt":91.4,"alpha":-4.13},{"p":"1480a","s":"L","alt":90.6,"alpha":-4.19},{"p":"1480a","s":"L","alt":89.8,"alpha":-4.11},{"p":"1480a","s":"L","alt":89.0,"alpha":-4.17},{"p":"1480a","s":"L","alt":88.2,"alpha":-4.12},{"p":"1480a","s":"L","alt":87.0,"alpha":-4.06},{"p":"1480a","s":"L","alt":85.0,"alpha":-3.99},{"p":"1480a","s":"L","alt":82.9,"alpha":-3.89},{"p":"1480a","s":"L","alt":80.8,"alpha":-3.80},{"p":"1480a","s":"L","alt":79.7,"alpha":-3.65},{"p":"1480a","s":"L","alt":78.7,"alpha":-3.51},{"p":"1480a","s":"L","alt":78.0,"alpha":-3.32},{"p":"1480a","s":"L","alt":77.6,"alpha":-3.03},{"p":"1480a","s":"L","alt":77.3,"alpha":-2.70},{"p":"1480a","s":"L","alt":75.9,"alpha":-2.46},{"p":"1480a","s":"L","alt":73.5,"alpha":-2.32},{"p":"1480a","s":"L","alt":70.3,"alpha":-2.30},{"p":"1480a","s":"L","alt":67.5,"alpha":-2.34},{"p":"1480a","s":"L","alt":64.8,"alpha":-2.32},{"p":"1480a","s":"L","alt":62.0,"alpha":-2.37},{"p":"1480a","s":"L","alt":59.2,"alpha":-2.39},{"p":"1480a","s":"L","alt":56.4,"alpha":-2.34},{"p":"1480a","s":"L","alt":52.9,"alpha":-2.32},{"p":"1480a","s":"L","alt":49.4,"alpha":-2.27},{"p":"1480a","s":"L","alt":46.0,"alpha":-2.20},{"p":"1480a","s":"L","alt":43.2,"alpha":-2.13},{"p":"1480a","s":"L","alt":39.7,"alpha":-2.08},
{"p":"1480a","s":"R","alt":99.6,"alpha":-3.94},{"p":"1480a","s":"R","alt":98.8,"alpha":-3.88},{"p":"1480a","s":"R","alt":98.0,"alpha":-3.95},{"p":"1480a","s":"R","alt":97.2,"alpha":-3.87},{"p":"1480a","s":"R","alt":96.4,"alpha":-3.96},{"p":"1480a","s":"R","alt":95.6,"alpha":-3.89},{"p":"1480a","s":"R","alt":94.8,"alpha":-3.95},{"p":"1480a","s":"R","alt":94.0,"alpha":-3.87},{"p":"1480a","s":"R","alt":93.2,"alpha":-3.93},{"p":"1480a","s":"R","alt":92.4,"alpha":-3.86},{"p":"1480a","s":"R","alt":91.6,"alpha":-3.92},{"p":"1480a","s":"R","alt":90.8,"alpha":-3.84},{"p":"1480a","s":"R","alt":90.0,"alpha":-3.90},{"p":"1480a","s":"R","alt":89.2,"alpha":-3.82},{"p":"1480a","s":"R","alt":88.4,"alpha":-3.87},{"p":"1480a","s":"R","alt":87.6,"alpha":-3.80},{"p":"1480a","s":"R","alt":86.8,"alpha":-3.84},{"p":"1480a","s":"R","alt":86.0,"alpha":-3.77},{"p":"1480a","s":"R","alt":85.2,"alpha":-3.79},{"p":"1480a","s":"R","alt":84.4,"alpha":-3.74},{"p":"1480a","s":"R","alt":83.6,"alpha":-3.75},{"p":"1480a","s":"R","alt":82.2,"alpha":-3.72},{"p":"1480a","s":"R","alt":80.5,"alpha":-3.63},{"p":"1480a","s":"R","alt":78.7,"alpha":-3.51},
{"p":"1480b","s":"L","alt":98.2,"alpha":-4.00},{"p":"1480b","s":"L","alt":97.3,"alpha":-4.07},{"p":"1480b","s":"L","alt":96.4,"alpha":-4.02},{"p":"1480b","s":"L","alt":95.5,"alpha":-4.09},{"p":"1480b","s":"L","alt":94.6,"alpha":-4.01},{"p":"1480b","s":"L","alt":93.7,"alpha":-4.08},{"p":"1480b","s":"L","alt":92.8,"alpha":-3.97},{"p":"1480b","s":"L","alt":91.9,"alpha":-4.04},{"p":"1480b","s":"L","alt":91.0,"alpha":-3.96},{"p":"1480b","s":"L","alt":90.1,"alpha":-4.02},{"p":"1480b","s":"L","alt":89.2,"alpha":-3.92},{"p":"1480b","s":"L","alt":88.3,"alpha":-3.98},{"p":"1480b","s":"L","alt":87.4,"alpha":-3.90},{"p":"1480b","s":"L","alt":86.5,"alpha":-3.96},{"p":"1480b","s":"L","alt":85.6,"alpha":-3.86},{"p":"1480b","s":"L","alt":84.7,"alpha":-3.90},{"p":"1480b","s":"L","alt":83.8,"alpha":-3.82},{"p":"1480b","s":"L","alt":82.9,"alpha":-3.86},{"p":"1480b","s":"L","alt":82.0,"alpha":-3.77},{"p":"1480b","s":"L","alt":81.1,"alpha":-3.81},{"p":"1480b","s":"L","alt":80.2,"alpha":-3.73},{"p":"1480b","s":"L","alt":79.3,"alpha":-3.77},{"p":"1480b","s":"L","alt":78.3,"alpha":-3.72},{"p":"1480b","s":"L","alt":77.4,"alpha":-3.66},{"p":"1480b","s":"L","alt":76.6,"alpha":-3.62},{"p":"1480b","s":"L","alt":75.5,"alpha":-3.57},{"p":"1480b","s":"L","alt":74.5,"alpha":-3.50},{"p":"1480b","s":"L","alt":72.4,"alpha":-3.39},{"p":"1480b","s":"L","alt":69.6,"alpha":-3.27},{"p":"1480b","s":"L","alt":66.9,"alpha":-3.12},{"p":"1480b","s":"L","alt":64.1,"alpha":-2.98},{"p":"1480b","s":"L","alt":61.0,"alpha":-2.84},{"p":"1480b","s":"L","alt":58.8,"alpha":-2.70},{"p":"1480b","s":"L","alt":56.8,"alpha":-2.55},{"p":"1480b","s":"L","alt":55.0,"alpha":-2.36},{"p":"1480b","s":"L","alt":52.6,"alpha":-2.17},{"p":"1480b","s":"L","alt":49.9,"alpha":-2.03},{"p":"1480b","s":"L","alt":46.2,"alpha":-1.94},{"p":"1480b","s":"L","alt":43.5,"alpha":-1.92},{"p":"1480b","s":"L","alt":41.1,"alpha":-1.89},
{"p":"1480b","s":"R","alt":98.9,"alpha":-3.79},{"p":"1480b","s":"R","alt":98.0,"alpha":-3.84},{"p":"1480b","s":"R","alt":97.1,"alpha":-3.77},{"p":"1480b","s":"R","alt":96.2,"alpha":-3.83},{"p":"1480b","s":"R","alt":95.3,"alpha":-3.71},{"p":"1480b","s":"R","alt":94.4,"alpha":-3.79},{"p":"1480b","s":"R","alt":93.5,"alpha":-3.72},{"p":"1480b","s":"R","alt":92.6,"alpha":-3.79},{"p":"1480b","s":"R","alt":91.7,"alpha":-3.69},{"p":"1480b","s":"R","alt":90.8,"alpha":-3.75},{"p":"1480b","s":"R","alt":89.9,"alpha":-3.68},{"p":"1480b","s":"R","alt":89.0,"alpha":-3.74},{"p":"1480b","s":"R","alt":88.1,"alpha":-3.66},{"p":"1480b","s":"R","alt":87.2,"alpha":-3.70},{"p":"1480b","s":"R","alt":86.3,"alpha":-3.62},{"p":"1480b","s":"R","alt":85.4,"alpha":-3.66},{"p":"1480b","s":"R","alt":84.5,"alpha":-3.59},{"p":"1480b","s":"R","alt":83.6,"alpha":-3.62},{"p":"1480b","s":"R","alt":82.7,"alpha":-3.54},{"p":"1480b","s":"R","alt":81.8,"alpha":-3.57},{"p":"1480b","s":"R","alt":80.9,"alpha":-3.50},{"p":"1480b","s":"R","alt":80.0,"alpha":-3.53},{"p":"1480b","s":"R","alt":79.1,"alpha":-3.47},{"p":"1480b","s":"R","alt":78.2,"alpha":-3.49},{"p":"1480b","s":"R","alt":77.0,"alpha":-3.42},{"p":"1480b","s":"R","alt":75.5,"alpha":-3.37},{"p":"1480b","s":"R","alt":72.4,"alpha":-3.29},{"p":"1480b","s":"R","alt":69.6,"alpha":-3.18},{"p":"1480b","s":"R","alt":66.2,"alpha":-3.05},{"p":"1480b","s":"R","alt":62.7,"alpha":-2.91},{"p":"1480b","s":"R","alt":61.0,"alpha":-2.84},
{"p":"1487a","s":"L","alt":97.5,"alpha":-3.84},{"p":"1487a","s":"L","alt":84.7,"alpha":-3.55},{"p":"1487a","s":"L","alt":83.8,"alpha":-3.43},{"p":"1487a","s":"L","alt":81.2,"alpha":-3.12},{"p":"1487a","s":"L","alt":78.3,"alpha":-2.69},{"p":"1487a","s":"L","alt":76.6,"alpha":-2.26},{"p":"1487a","s":"L","alt":74.5,"alpha":-1.98},{"p":"1487a","s":"L","alt":72.4,"alpha":-1.79},{"p":"1487a","s":"L","alt":69.6,"alpha":-1.72},{"p":"1487a","s":"L","alt":65.5,"alpha":-1.67},{"p":"1487a","s":"L","alt":61.3,"alpha":-1.50},{"p":"1487a","s":"L","alt":57.8,"alpha":-1.36},{"p":"1487a","s":"L","alt":55.0,"alpha":-1.29},{"p":"1487a","s":"L","alt":50.1,"alpha":-1.29},{"p":"1487a","s":"L","alt":44.6,"alpha":-1.31},{"p":"1487a","s":"L","alt":39.0,"alpha":-1.29},{"p":"1487a","s":"L","alt":32.0,"alpha":-1.21},{"p":"1487a","s":"L","alt":26.5,"alpha":-1.12},{"p":"1487a","s":"L","alt":22.3,"alpha":-1.05},{"p":"1487a","s":"L","alt":16.7,"alpha":-1.07},{"p":"1487a","s":"L","alt":11.1,"alpha":-1.12},{"p":"1487a","s":"L","alt":5.6,"alpha":-1.14},{"p":"1487a","s":"L","alt":0.0,"alpha":-1.17},
{"p":"1487a","s":"R","alt":97.5,"alpha":-3.70},{"p":"1487a","s":"R","alt":85.5,"alpha":-3.47},{"p":"1487a","s":"R","alt":82.5,"alpha":-3.15},{"p":"1487a","s":"R","alt":81.2,"alpha":-3.12},
{"p":"1493a","s":"L","alt":98.9,"alpha":-4.18},{"p":"1493a","s":"L","alt":98.2,"alpha":-4.08},{"p":"1493a","s":"L","alt":97.5,"alpha":-4.18},{"p":"1493a","s":"L","alt":96.8,"alpha":-4.06},{"p":"1493a","s":"L","alt":96.1,"alpha":-4.17},{"p":"1493a","s":"L","alt":95.4,"alpha":-4.09},{"p":"1493a","s":"L","alt":94.7,"alpha":-4.19},{"p":"1493a","s":"L","alt":94.0,"alpha":-4.06},{"p":"1493a","s":"L","alt":93.3,"alpha":-4.16},{"p":"1493a","s":"L","alt":92.6,"alpha":-4.10},{"p":"1493a","s":"L","alt":91.9,"alpha":-4.20},{"p":"1493a","s":"L","alt":91.2,"alpha":-4.09},{"p":"1493a","s":"L","alt":90.5,"alpha":-4.18},{"p":"1493a","s":"L","alt":89.8,"alpha":-4.11},{"p":"1493a","s":"L","alt":89.1,"alpha":-4.20},{"p":"1493a","s":"L","alt":88.4,"alpha":-4.12},{"p":"1493a","s":"L","alt":87.7,"alpha":-4.20},{"p":"1493a","s":"L","alt":87.0,"alpha":-4.10},{"p":"1493a","s":"L","alt":86.3,"alpha":-4.18},{"p":"1493a","s":"L","alt":85.6,"alpha":-4.13},{"p":"1493a","s":"L","alt":84.9,"alpha":-4.20},{"p":"1493a","s":"L","alt":84.2,"alpha":-4.12},{"p":"1493a","s":"L","alt":83.5,"alpha":-4.20},{"p":"1493a","s":"L","alt":82.8,"alpha":-4.08},{"p":"1493a","s":"L","alt":82.1,"alpha":-4.15},{"p":"1493a","s":"L","alt":81.4,"alpha":-4.06},{"p":"1493a","s":"L","alt":80.7,"alpha":-4.20},{"p":"1493a","s":"L","alt":79.7,"alpha":-4.19},{"p":"1493a","s":"L","alt":79.1,"alpha":-4.01},{"p":"1493a","s":"L","alt":77.7,"alpha":-3.89},{"p":"1493a","s":"L","alt":75.9,"alpha":-3.80},{"p":"1493a","s":"L","alt":73.1,"alpha":-3.71},{"p":"1493a","s":"L","alt":71.3,"alpha":-3.60},{"p":"1493a","s":"L","alt":69.4,"alpha":-3.46},{"p":"1493a","s":"L","alt":68.0,"alpha":-3.34},{"p":"1493a","s":"L","alt":65.7,"alpha":-3.22},{"p":"1493a","s":"L","alt":62.7,"alpha":-3.10},{"p":"1493a","s":"L","alt":59.9,"alpha":-3.01},{"p":"1493a","s":"L","alt":56.8,"alpha":-2.89},{"p":"1493a","s":"L","alt":52.9,"alpha":-2.75},{"p":"1493a","s":"L","alt":49.4,"alpha":-2.60},{"p":"1493a","s":"L","alt":46.0,"alpha":-2.44},{"p":"1493a","s":"L","alt":42.9,"alpha":-2.27},{"p":"1493a","s":"L","alt":40.7,"alpha":-2.13},{"p":"1493a","s":"L","alt":39.7,"alpha":-1.96},
{"p":"1493a","s":"R","alt":98.9,"alpha":-4.13},{"p":"1493a","s":"R","alt":98.2,"alpha":-4.05},{"p":"1493a","s":"R","alt":97.5,"alpha":-4.12},{"p":"1493a","s":"R","alt":96.8,"alpha":-4.02},{"p":"1493a","s":"R","alt":96.1,"alpha":-4.09},{"p":"1493a","s":"R","alt":95.4,"alpha":-3.99},{"p":"1493a","s":"R","alt":94.7,"alpha":-4.07},{"p":"1493a","s":"R","alt":94.0,"alpha":-3.98},{"p":"1493a","s":"R","alt":93.3,"alpha":-4.08},{"p":"1493a","s":"R","alt":92.6,"alpha":-3.97},{"p":"1493a","s":"R","alt":91.9,"alpha":-4.04},{"p":"1493a","s":"R","alt":91.2,"alpha":-3.95},{"p":"1493a","s":"R","alt":90.5,"alpha":-4.03},{"p":"1493a","s":"R","alt":89.8,"alpha":-3.94},{"p":"1493a","s":"R","alt":89.1,"alpha":-4.01},{"p":"1493a","s":"R","alt":88.4,"alpha":-3.92},{"p":"1493a","s":"R","alt":87.7,"alpha":-3.97},{"p":"1493a","s":"R","alt":87.0,"alpha":-3.90},{"p":"1493a","s":"R","alt":86.3,"alpha":-3.96},{"p":"1493a","s":"R","alt":85.6,"alpha":-3.88},{"p":"1493a","s":"R","alt":84.9,"alpha":-3.93},{"p":"1493a","s":"R","alt":84.2,"alpha":-3.86},{"p":"1493a","s":"R","alt":83.5,"alpha":-3.90},{"p":"1493a","s":"R","alt":82.8,"alpha":-3.84},{"p":"1493a","s":"R","alt":82.1,"alpha":-3.87},{"p":"1493a","s":"R","alt":81.4,"alpha":-3.81},{"p":"1493a","s":"R","alt":80.8,"alpha":-3.82},{"p":"1493a","s":"R","alt":79.5,"alpha":-3.80},{"p":"1493a","s":"R","alt":78.7,"alpha":-3.84},{"p":"1493a","s":"R","alt":77.3,"alpha":-3.72},{"p":"1493a","s":"R","alt":74.9,"alpha":-3.63},{"p":"1493a","s":"R","alt":72.7,"alpha":-3.53},{"p":"1493a","s":"R","alt":70.3,"alpha":-3.41},{"p":"1493a","s":"R","alt":68.0,"alpha":-3.34},
{"p":"1493b","s":"L","alt":98.2,"alpha":-4.08},{"p":"1493b","s":"L","alt":97.4,"alpha":-4.02},{"p":"1493b","s":"L","alt":96.6,"alpha":-4.09},{"p":"1493b","s":"L","alt":95.8,"alpha":-4.01},{"p":"1493b","s":"L","alt":95.0,"alpha":-4.08},{"p":"1493b","s":"L","alt":94.2,"alpha":-3.98},{"p":"1493b","s":"L","alt":93.4,"alpha":-4.05},{"p":"1493b","s":"L","alt":92.6,"alpha":-3.97},{"p":"1493b","s":"L","alt":91.8,"alpha":-4.04},{"p":"1493b","s":"L","alt":91.0,"alpha":-3.96},{"p":"1493b","s":"L","alt":90.2,"alpha":-4.02},{"p":"1493b","s":"L","alt":89.4,"alpha":-3.93},{"p":"1493b","s":"L","alt":88.6,"alpha":-3.99},{"p":"1493b","s":"L","alt":87.8,"alpha":-3.91},{"p":"1493b","s":"L","alt":87.0,"alpha":-3.96},{"p":"1493b","s":"L","alt":86.2,"alpha":-3.88},{"p":"1493b","s":"L","alt":85.4,"alpha":-3.93},{"p":"1493b","s":"L","alt":84.6,"alpha":-3.84},{"p":"1493b","s":"L","alt":83.8,"alpha":-3.89},{"p":"1493b","s":"L","alt":83.0,"alpha":-3.81},{"p":"1493b","s":"L","alt":82.2,"alpha":-3.85},{"p":"1493b","s":"L","alt":81.4,"alpha":-3.78},{"p":"1493b","s":"L","alt":80.6,"alpha":-3.82},{"p":"1493b","s":"L","alt":79.8,"alpha":-3.76},{"p":"1493b","s":"L","alt":79.0,"alpha":-3.78},{"p":"1493b","s":"L","alt":78.2,"alpha":-3.70},{"p":"1493b","s":"L","alt":77.4,"alpha":-3.71},{"p":"1493b","s":"L","alt":76.6,"alpha":-3.66},{"p":"1493b","s":"L","alt":74.5,"alpha":-3.58},{"p":"1493b","s":"L","alt":72.7,"alpha":-3.46},{"p":"1493b","s":"L","alt":71.0,"alpha":-3.34},{"p":"1493b","s":"L","alt":68.9,"alpha":-3.22},{"p":"1493b","s":"L","alt":66.9,"alpha":-3.12},{"p":"1493b","s":"L","alt":63.4,"alpha":-2.98},{"p":"1493b","s":"L","alt":59.9,"alpha":-2.84},{"p":"1493b","s":"L","alt":56.0,"alpha":-2.70},{"p":"1493b","s":"L","alt":52.6,"alpha":-2.55},{"p":"1493b","s":"L","alt":49.0,"alpha":-2.41},{"p":"1493b","s":"L","alt":45.7,"alpha":-2.27},{"p":"1493b","s":"L","alt":42.9,"alpha":-2.12},{"p":"1493b","s":"L","alt":39.7,"alpha":-1.93},
{"p":"1493b","s":"R","alt":98.2,"alpha":-3.79},{"p":"1493b","s":"R","alt":97.4,"alpha":-3.72},{"p":"1493b","s":"R","alt":96.6,"alpha":-3.78},{"p":"1493b","s":"R","alt":95.8,"alpha":-3.70},{"p":"1493b","s":"R","alt":95.0,"alpha":-3.79},{"p":"1493b","s":"R","alt":94.2,"alpha":-3.71},{"p":"1493b","s":"R","alt":93.4,"alpha":-3.78},{"p":"1493b","s":"R","alt":92.6,"alpha":-3.68},{"p":"1493b","s":"R","alt":91.8,"alpha":-3.75},{"p":"1493b","s":"R","alt":91.0,"alpha":-3.67},{"p":"1493b","s":"R","alt":90.2,"alpha":-3.76},{"p":"1493b","s":"R","alt":89.4,"alpha":-3.66},{"p":"1493b","s":"R","alt":88.6,"alpha":-3.72},{"p":"1493b","s":"R","alt":87.8,"alpha":-3.64},{"p":"1493b","s":"R","alt":87.0,"alpha":-3.68},{"p":"1493b","s":"R","alt":86.2,"alpha":-3.61},{"p":"1493b","s":"R","alt":85.4,"alpha":-3.65},{"p":"1493b","s":"R","alt":84.6,"alpha":-3.58},{"p":"1493b","s":"R","alt":83.8,"alpha":-3.62},{"p":"1493b","s":"R","alt":83.0,"alpha":-3.56},{"p":"1493b","s":"R","alt":82.2,"alpha":-3.62},{"p":"1493b","s":"R","alt":81.4,"alpha":-3.55},{"p":"1493b","s":"R","alt":80.6,"alpha":-3.60},{"p":"1493b","s":"R","alt":79.8,"alpha":-3.53},{"p":"1493b","s":"R","alt":79.0,"alpha":-3.55},{"p":"1493b","s":"R","alt":78.2,"alpha":-3.49},{"p":"1493b","s":"R","alt":77.4,"alpha":-3.50},{"p":"1493b","s":"R","alt":76.6,"alpha":-3.45},{"p":"1493b","s":"R","alt":73.8,"alpha":-3.39},{"p":"1493b","s":"R","alt":71.7,"alpha":-3.31},{"p":"1493b","s":"R","alt":69.4,"alpha":-3.21},{"p":"1493b","s":"R","alt":66.9,"alpha":-3.12},
{"p":"1496a","s":"L","alt":98.9,"alpha":-4.18},{"p":"1496a","s":"L","alt":98.2,"alpha":-4.06},{"p":"1496a","s":"L","alt":97.5,"alpha":-4.17},{"p":"1496a","s":"L","alt":96.8,"alpha":-4.07},{"p":"1496a","s":"L","alt":96.1,"alpha":-4.19},{"p":"1496a","s":"L","alt":95.4,"alpha":-4.05},{"p":"1496a","s":"L","alt":94.7,"alpha":-4.16},{"p":"1496a","s":"L","alt":94.0,"alpha":-4.03},{"p":"1496a","s":"L","alt":93.3,"alpha":-4.17},{"p":"1496a","s":"L","alt":92.6,"alpha":-4.06},{"p":"1496a","s":"L","alt":91.9,"alpha":-4.18},{"p":"1496a","s":"L","alt":91.2,"alpha":-4.05},{"p":"1496a","s":"L","alt":90.5,"alpha":-4.17},{"p":"1496a","s":"L","alt":89.8,"alpha":-4.04},{"p":"1496a","s":"L","alt":89.1,"alpha":-4.18},{"p":"1496a","s":"L","alt":88.4,"alpha":-4.06},{"p":"1496a","s":"L","alt":87.7,"alpha":-4.17},{"p":"1496a","s":"L","alt":87.0,"alpha":-4.07},{"p":"1496a","s":"L","alt":86.3,"alpha":-4.15},{"p":"1496a","s":"L","alt":85.6,"alpha":-4.05},{"p":"1496a","s":"L","alt":84.9,"alpha":-4.14},{"p":"1496a","s":"L","alt":84.2,"alpha":-4.04},{"p":"1496a","s":"L","alt":83.5,"alpha":-4.12},{"p":"1496a","s":"L","alt":82.8,"alpha":-4.03},{"p":"1496a","s":"L","alt":82.1,"alpha":-4.11},{"p":"1496a","s":"L","alt":81.4,"alpha":-4.02},{"p":"1496a","s":"L","alt":80.7,"alpha":-4.10},{"p":"1496a","s":"L","alt":80.0,"alpha":-4.04},{"p":"1496a","s":"L","alt":79.3,"alpha":-4.10},{"p":"1496a","s":"L","alt":78.3,"alpha":-3.98},{"p":"1496a","s":"L","alt":77.5,"alpha":-3.92},{"p":"1496a","s":"L","alt":76.6,"alpha":-3.86},{"p":"1496a","s":"L","alt":75.2,"alpha":-3.84},{"p":"1496a","s":"L","alt":73.8,"alpha":-3.79},{"p":"1496a","s":"L","alt":72.7,"alpha":-3.71},{"p":"1496a","s":"L","alt":71.7,"alpha":-3.65},{"p":"1496a","s":"L","alt":70.8,"alpha":-3.58},{"p":"1496a","s":"L","alt":69.9,"alpha":-3.52},{"p":"1496a","s":"L","alt":68.2,"alpha":-3.38},{"p":"1496a","s":"L","alt":66.2,"alpha":-3.26},{"p":"1496a","s":"L","alt":64.8,"alpha":-3.19},{"p":"1496a","s":"L","alt":61.3,"alpha":-3.07},{"p":"1496a","s":"L","alt":57.8,"alpha":-2.93},{"p":"1496a","s":"L","alt":54.3,"alpha":-2.79},{"p":"1496a","s":"L","alt":50.8,"alpha":-2.64},{"p":"1496a","s":"L","alt":47.4,"alpha":-2.50},{"p":"1496a","s":"L","alt":44.1,"alpha":-2.36},{"p":"1496a","s":"L","alt":41.5,"alpha":-2.21},{"p":"1496a","s":"L","alt":39.7,"alpha":-2.07},
{"p":"1496a","s":"R","alt":99.2,"alpha":-3.79},{"p":"1496a","s":"R","alt":98.9,"alpha":-3.93},{"p":"1496a","s":"R","alt":98.2,"alpha":-3.87},{"p":"1496a","s":"R","alt":97.5,"alpha":-3.95},{"p":"1496a","s":"R","alt":96.8,"alpha":-3.86},{"p":"1496a","s":"R","alt":96.1,"alpha":-3.96},{"p":"1496a","s":"R","alt":95.4,"alpha":-3.87},{"p":"1496a","s":"R","alt":94.7,"alpha":-3.97},{"p":"1496a","s":"R","alt":94.0,"alpha":-3.85},{"p":"1496a","s":"R","alt":93.3,"alpha":-3.92},{"p":"1496a","s":"R","alt":92.6,"alpha":-3.82},{"p":"1496a","s":"R","alt":91.9,"alpha":-3.93},{"p":"1496a","s":"R","alt":91.2,"alpha":-3.83},{"p":"1496a","s":"R","alt":90.5,"alpha":-3.91},{"p":"1496a","s":"R","alt":89.8,"alpha":-3.79},{"p":"1496a","s":"R","alt":89.1,"alpha":-3.88},{"p":"1496a","s":"R","alt":88.4,"alpha":-3.79},{"p":"1496a","s":"R","alt":87.7,"alpha":-3.86},{"p":"1496a","s":"R","alt":87.0,"alpha":-3.77},{"p":"1496a","s":"R","alt":86.3,"alpha":-3.84},{"p":"1496a","s":"R","alt":85.6,"alpha":-3.74},{"p":"1496a","s":"R","alt":84.9,"alpha":-3.81},{"p":"1496a","s":"R","alt":84.2,"alpha":-3.73},{"p":"1496a","s":"R","alt":83.5,"alpha":-3.79},{"p":"1496a","s":"R","alt":82.8,"alpha":-3.71},{"p":"1496a","s":"R","alt":82.1,"alpha":-3.76},{"p":"1496a","s":"R","alt":81.4,"alpha":-3.69},{"p":"1496a","s":"R","alt":80.7,"alpha":-3.72},{"p":"1496a","s":"R","alt":80.0,"alpha":-3.67},{"p":"1496a","s":"R","alt":79.3,"alpha":-3.70},{"p":"1496a","s":"R","alt":78.3,"alpha":-3.65},{"p":"1496a","s":"R","alt":77.0,"alpha":-3.63},{"p":"1496a","s":"R","alt":75.5,"alpha":-3.59},{"p":"1496a","s":"R","alt":72.4,"alpha":-3.49},{"p":"1496a","s":"R","alt":69.9,"alpha":-3.38},{"p":"1496a","s":"R","alt":66.2,"alpha":-3.26}
]
},
"columns": 3,
"spacing": {"row": 115, "column": 157.5},
"bounds": "flush",
"concat": [
{"width":294,"height":335,"layer":[
 {"data":{"name":"bars"},"transform":[{"filter":"datum.p==='1421a' && datum.k==='e'"}],"mark":{"type":"rule","color":"black","strokeWidth":1.3},"encoding":{"x":{"field":"lo","type":"quantitative","scale":{"domain":[-4.2,0],"nice":false,"zero":false},"axis":{"orient":"bottom","values":[-4.1,-4,-3.9,-3.8,-3.7,-3.6,-3.5,-3.4,-3.3,-3.2,-3.1,-3,-2.9,-2.8,-2.7,-2.6,-2.5,-2.4,-2.3,-2.2,-2.1,-2,-1.9,-1.8,-1.7,-1.6,-1.5,-1.4,-1.3,-1.2,-1.1,-1,-0.9,-0.8,-0.7,-0.6,-0.5,-0.4,-0.3,-0.2,-0.1,0],"tickSize":{"condition":{"test":"abs(datum.value-round(datum.value))<0.001","value":-9},"value":-4},"labelExpr":"abs(datum.value-round(datum.value))<0.001 ? format(datum.value,'d') : ''","labelPadding":24,"labelFontSize":19,"title":"Angstrom factors α\u00a0\u00a0or I/F","titleFontSize":21,"titlePadding":-2}},"x2":{"field":"hi"},"y":{"field":"alt","type":"quantitative","scale":{"domain":[0,140],"nice":false,"zero":false},"axis":{"orient":"left","values":[0,5,10,15,20,25,30,35,40,45,50,55,60,65,70,75,80,85,90,95,100,105,110,115,120,125,130,135,140],"tickSize":{"condition":{"test":"datum.value % 20 === 0","value":-9},"value":-4},"labelExpr":"datum.value % 20 === 0 ? format(datum.value,'d') : ''","labelPadding":19,"labelFontSize":19,"labelFlush":true,"labelFlushOffset":2,"title":"Altitude(km)","titleFontSize":18,"titlePadding":10}}}},
 {"data":{"name":"bars"},"transform":[{"filter":"datum.p==='1421a' && datum.k==='t'"}],"mark":{"type":"rule","color":"black","strokeWidth":3.2},"encoding":{"x":{"field":"lo","type":"quantitative","scale":{"domain":[-4.2,0],"nice":false,"zero":false},"axis":null},"x2":{"field":"hi"},"y":{"field":"alt","type":"quantitative","scale":{"domain":[0,140],"nice":false,"zero":false},"axis":null}}},
 {"data":{"name":"lines"},"transform":[{"filter":"datum.p==='1421a'"}],"mark":{"type":"line","color":"black","strokeWidth":1.4},"encoding":{"x":{"field":"alpha","type":"quantitative","scale":{"domain":[-4.2,0],"nice":false,"zero":false},"axis":{"orient":"top","values":[-4.1,-4,-3.9,-3.8,-3.7,-3.6,-3.5,-3.4,-3.3,-3.2,-3.1,-3,-2.9,-2.8,-2.7,-2.6,-2.5,-2.4,-2.3,-2.2,-2.1,-2,-1.9,-1.8,-1.7,-1.6,-1.5,-1.4,-1.3,-1.2,-1.1,-1,-0.9,-0.8,-0.7,-0.6,-0.5,-0.4,-0.3,-0.2,-0.1,0],"tickSize":{"condition":{"test":"abs(datum.value-round(datum.value))<0.001","value":-9},"value":-4},"labels":false,"title":null}},"y":{"field":"alt","type":"quantitative","scale":{"domain":[0,140],"nice":false,"zero":false},"axis":{"orient":"right","values":[0,5,10,15,20,25,30,35,40,45,50,55,60,65,70,75,80,85,90,95,100,105,110,115,120,125,130,135,140],"tickSize":{"condition":{"test":"datum.value % 20 === 0","value":-9},"value":-4},"labels":false,"title":null}},"detail":{"field":"s"},"order":{"field":"alt","sort":"descending"}}},
 {"data":{"name":"pts"},"transform":[{"filter":"datum.p==='1421a'"}],"mark":{"type":"point","shape":"diamond","filled":false,"size":120,"strokeWidth":1.3,"color":"black","opacity":1},"encoding":{"x":{"field":"alpha","type":"quantitative","scale":{"domain":[-4.2,0],"nice":false,"zero":false},"axis":null},"y":{"field":"alt","type":"quantitative","scale":{"domain":[0,140],"nice":false,"zero":false},"axis":null}}},
 {"data":{"name":"labels"},"transform":[{"filter":"datum.p==='1421a'"}],"mark":{"type":"text","angle":270,"fontSize":16,"fontWeight":"normal","align":"center","baseline":"middle"},"encoding":{"x":{"field":"alpha","type":"quantitative","scale":{"domain":[-4.2,0],"nice":false,"zero":false},"axis":null},"y":{"field":"alt","type":"quantitative","scale":{"domain":[0,140],"nice":false,"zero":false},"axis":null},"text":{"field":"t"}}},
 {"data":{"name":"titles"},"transform":[{"filter":"datum.p==='1421a'"}],"mark":{"type":"text","fontSize":25,"fontWeight":200,"align":"right","baseline":"alphabetic"},"encoding":{"x":{"field":"alpha","type":"quantitative","scale":{"domain":[-4.2,0],"nice":false,"zero":false},"axis":null},"y":{"field":"alt","type":"quantitative","scale":{"domain":[0,140],"nice":false,"zero":false},"axis":null},"text":{"field":"t"}}},
 {"data":{"name":"tag"},"mark":{"type":"text","fontSize":21,"font":"Liberation Sans","fontWeight":"bold","align":"center","baseline":"alphabetic"},"encoding":{"x":{"field":"alpha","type":"quantitative","scale":{"domain":[-4.2,0],"nice":false,"zero":false},"axis":null},"y":{"field":"alt","type":"quantitative","scale":{"domain":[0,140],"nice":false,"zero":false},"axis":null},"text":{"field":"t"}}}
],"resolve":{"axis":{"x":"independent","y":"independent"}}},
{"width":294,"height":335,"layer":[
 {"data":{"name":"bars"},"transform":[{"filter":"datum.p==='1421b' && datum.k==='e'"}],"mark":{"type":"rule","color":"black","strokeWidth":1.3},"encoding":{"x":{"field":"lo","type":"quantitative","scale":{"domain":[-4.2,0],"nice":false,"zero":false},"axis":{"orient":"bottom","values":[-4.1,-4,-3.9,-3.8,-3.7,-3.6,-3.5,-3.4,-3.3,-3.2,-3.1,-3,-2.9,-2.8,-2.7,-2.6,-2.5,-2.4,-2.3,-2.2,-2.1,-2,-1.9,-1.8,-1.7,-1.6,-1.5,-1.4,-1.3,-1.2,-1.1,-1,-0.9,-0.8,-0.7,-0.6,-0.5,-0.4,-0.3,-0.2,-0.1,0],"tickSize":{"condition":{"test":"abs(datum.value-round(datum.value))<0.001","value":-9},"value":-4},"labelExpr":"abs(datum.value-round(datum.value))<0.001 ? format(datum.value,'d') : ''","labelPadding":24,"labelFontSize":19,"title":"Angstrom factors α\u00a0\u00a0or I/F","titleFontSize":21,"titlePadding":-2}},"x2":{"field":"hi"},"y":{"field":"alt","type":"quantitative","scale":{"domain":[0,140],"nice":false,"zero":false},"axis":{"orient":"left","values":[0,5,10,15,20,25,30,35,40,45,50,55,60,65,70,75,80,85,90,95,100,105,110,115,120,125,130,135,140],"tickSize":{"condition":{"test":"datum.value % 20 === 0","value":-9},"value":-4},"labelExpr":"datum.value % 20 === 0 ? format(datum.value,'d') : ''","labelPadding":19,"labelFontSize":19,"labelFlush":true,"labelFlushOffset":2,"title":"Altitude(km)","titleFontSize":18,"titlePadding":10}}}},
 {"data":{"name":"bars"},"transform":[{"filter":"datum.p==='1421b' && datum.k==='t'"}],"mark":{"type":"rule","color":"black","strokeWidth":3.2},"encoding":{"x":{"field":"lo","type":"quantitative","scale":{"domain":[-4.2,0],"nice":false,"zero":false},"axis":null},"x2":{"field":"hi"},"y":{"field":"alt","type":"quantitative","scale":{"domain":[0,140],"nice":false,"zero":false},"axis":null}}},
 {"data":{"name":"lines"},"transform":[{"filter":"datum.p==='1421b'"}],"mark":{"type":"line","color":"black","strokeWidth":1.4},"encoding":{"x":{"field":"alpha","type":"quantitative","scale":{"domain":[-4.2,0],"nice":false,"zero":false},"axis":{"orient":"top","values":[-4.1,-4,-3.9,-3.8,-3.7,-3.6,-3.5,-3.4,-3.3,-3.2,-3.1,-3,-2.9,-2.8,-2.7,-2.6,-2.5,-2.4,-2.3,-2.2,-2.1,-2,-1.9,-1.8,-1.7,-1.6,-1.5,-1.4,-1.3,-1.2,-1.1,-1,-0.9,-0.8,-0.7,-0.6,-0.5,-0.4,-0.3,-0.2,-0.1,0],"tickSize":{"condition":{"test":"abs(datum.value-round(datum.value))<0.001","value":-9},"value":-4},"labels":false,"title":null}},"y":{"field":"alt","type":"quantitative","scale":{"domain":[0,140],"nice":false,"zero":false},"axis":{"orient":"right","values":[0,5,10,15,20,25,30,35,40,45,50,55,60,65,70,75,80,85,90,95,100,105,110,115,120,125,130,135,140],"tickSize":{"condition":{"test":"datum.value % 20 === 0","value":-9},"value":-4},"labels":false,"title":null}},"detail":{"field":"s"},"order":{"field":"alt","sort":"descending"}}},
 {"data":{"name":"pts"},"transform":[{"filter":"datum.p==='1421b'"}],"mark":{"type":"point","shape":"diamond","filled":false,"size":120,"strokeWidth":1.3,"color":"black","opacity":1},"encoding":{"x":{"field":"alpha","type":"quantitative","scale":{"domain":[-4.2,0],"nice":false,"zero":false},"axis":null},"y":{"field":"alt","type":"quantitative","scale":{"domain":[0,140],"nice":false,"zero":false},"axis":null}}},
 {"data":{"name":"labels"},"transform":[{"filter":"datum.p==='1421b'"}],"mark":{"type":"text","angle":270,"fontSize":16,"fontWeight":"normal","align":"center","baseline":"middle"},"encoding":{"x":{"field":"alpha","type":"quantitative","scale":{"domain":[-4.2,0],"nice":false,"zero":false},"axis":null},"y":{"field":"alt","type":"quantitative","scale":{"domain":[0,140],"nice":false,"zero":false},"axis":null},"text":{"field":"t"}}},
 {"data":{"name":"titles"},"transform":[{"filter":"datum.p==='1421b'"}],"mark":{"type":"text","fontSize":25,"fontWeight":200,"align":"right","baseline":"alphabetic"},"encoding":{"x":{"field":"alpha","type":"quantitative","scale":{"domain":[-4.2,0],"nice":false,"zero":false},"axis":null},"y":{"field":"alt","type":"quantitative","scale":{"domain":[0,140],"nice":false,"zero":false},"axis":null},"text":{"field":"t"}}}
],"resolve":{"axis":{"x":"independent","y":"independent"}}},
{"width":294,"height":335,"layer":[
 {"data":{"name":"bars"},"transform":[{"filter":"datum.p==='1447a' && datum.k==='e'"}],"mark":{"type":"rule","color":"black","strokeWidth":1.3},"encoding":{"x":{"field":"lo","type":"quantitative","scale":{"domain":[-4.2,0],"nice":false,"zero":false},"axis":{"orient":"bottom","values":[-4.1,-4,-3.9,-3.8,-3.7,-3.6,-3.5,-3.4,-3.3,-3.2,-3.1,-3,-2.9,-2.8,-2.7,-2.6,-2.5,-2.4,-2.3,-2.2,-2.1,-2,-1.9,-1.8,-1.7,-1.6,-1.5,-1.4,-1.3,-1.2,-1.1,-1,-0.9,-0.8,-0.7,-0.6,-0.5,-0.4,-0.3,-0.2,-0.1,0],"tickSize":{"condition":{"test":"abs(datum.value-round(datum.value))<0.001","value":-9},"value":-4},"labelExpr":"abs(datum.value-round(datum.value))<0.001 ? format(datum.value,'d') : ''","labelPadding":24,"labelFontSize":19,"title":"Angstrom factors α\u00a0\u00a0or I/F","titleFontSize":21,"titlePadding":-2}},"x2":{"field":"hi"},"y":{"field":"alt","type":"quantitative","scale":{"domain":[0,140],"nice":false,"zero":false},"axis":{"orient":"left","values":[0,5,10,15,20,25,30,35,40,45,50,55,60,65,70,75,80,85,90,95,100,105,110,115,120,125,130,135,140],"tickSize":{"condition":{"test":"datum.value % 20 === 0","value":-9},"value":-4},"labelExpr":"datum.value % 20 === 0 ? format(datum.value,'d') : ''","labelPadding":19,"labelFontSize":19,"labelFlush":true,"labelFlushOffset":2,"title":"Altitude(km)","titleFontSize":18,"titlePadding":10}}}},
 {"data":{"name":"bars"},"transform":[{"filter":"datum.p==='1447a' && datum.k==='t'"}],"mark":{"type":"rule","color":"black","strokeWidth":3.2},"encoding":{"x":{"field":"lo","type":"quantitative","scale":{"domain":[-4.2,0],"nice":false,"zero":false},"axis":null},"x2":{"field":"hi"},"y":{"field":"alt","type":"quantitative","scale":{"domain":[0,140],"nice":false,"zero":false},"axis":null}}},
 {"data":{"name":"lines"},"transform":[{"filter":"datum.p==='1447a'"}],"mark":{"type":"line","color":"black","strokeWidth":1.4},"encoding":{"x":{"field":"alpha","type":"quantitative","scale":{"domain":[-4.2,0],"nice":false,"zero":false},"axis":{"orient":"top","values":[-4.1,-4,-3.9,-3.8,-3.7,-3.6,-3.5,-3.4,-3.3,-3.2,-3.1,-3,-2.9,-2.8,-2.7,-2.6,-2.5,-2.4,-2.3,-2.2,-2.1,-2,-1.9,-1.8,-1.7,-1.6,-1.5,-1.4,-1.3,-1.2,-1.1,-1,-0.9,-0.8,-0.7,-0.6,-0.5,-0.4,-0.3,-0.2,-0.1,0],"tickSize":{"condition":{"test":"abs(datum.value-round(datum.value))<0.001","value":-9},"value":-4},"labels":false,"title":null}},"y":{"field":"alt","type":"quantitative","scale":{"domain":[0,140],"nice":false,"zero":false},"axis":{"orient":"right","values":[0,5,10,15,20,25,30,35,40,45,50,55,60,65,70,75,80,85,90,95,100,105,110,115,120,125,130,135,140],"tickSize":{"condition":{"test":"datum.value % 20 === 0","value":-9},"value":-4},"labels":false,"title":null}},"detail":{"field":"s"},"order":{"field":"alt","sort":"descending"}}},
 {"data":{"name":"pts"},"transform":[{"filter":"datum.p==='1447a'"}],"mark":{"type":"point","shape":"diamond","filled":false,"size":120,"strokeWidth":1.3,"color":"black","opacity":1},"encoding":{"x":{"field":"alpha","type":"quantitative","scale":{"domain":[-4.2,0],"nice":false,"zero":false},"axis":null},"y":{"field":"alt","type":"quantitative","scale":{"domain":[0,140],"nice":false,"zero":false},"axis":null}}},
 {"data":{"name":"labels"},"transform":[{"filter":"datum.p==='1447a'"}],"mark":{"type":"text","angle":270,"fontSize":16,"fontWeight":"normal","align":"center","baseline":"middle"},"encoding":{"x":{"field":"alpha","type":"quantitative","scale":{"domain":[-4.2,0],"nice":false,"zero":false},"axis":null},"y":{"field":"alt","type":"quantitative","scale":{"domain":[0,140],"nice":false,"zero":false},"axis":null},"text":{"field":"t"}}},
 {"data":{"name":"titles"},"transform":[{"filter":"datum.p==='1447a'"}],"mark":{"type":"text","fontSize":25,"fontWeight":200,"align":"right","baseline":"alphabetic"},"encoding":{"x":{"field":"alpha","type":"quantitative","scale":{"domain":[-4.2,0],"nice":false,"zero":false},"axis":null},"y":{"field":"alt","type":"quantitative","scale":{"domain":[0,140],"nice":false,"zero":false},"axis":null},"text":{"field":"t"}}}
],"resolve":{"axis":{"x":"independent","y":"independent"}}},
{"width":294,"height":335,"layer":[
 {"data":{"name":"bars"},"transform":[{"filter":"datum.p==='1480a' && datum.k==='e'"}],"mark":{"type":"rule","color":"black","strokeWidth":1.3},"encoding":{"x":{"field":"lo","type":"quantitative","scale":{"domain":[-4.2,0],"nice":false,"zero":false},"axis":{"orient":"bottom","values":[-4.1,-4,-3.9,-3.8,-3.7,-3.6,-3.5,-3.4,-3.3,-3.2,-3.1,-3,-2.9,-2.8,-2.7,-2.6,-2.5,-2.4,-2.3,-2.2,-2.1,-2,-1.9,-1.8,-1.7,-1.6,-1.5,-1.4,-1.3,-1.2,-1.1,-1,-0.9,-0.8,-0.7,-0.6,-0.5,-0.4,-0.3,-0.2,-0.1,0],"tickSize":{"condition":{"test":"abs(datum.value-round(datum.value))<0.001","value":-9},"value":-4},"labelExpr":"abs(datum.value-round(datum.value))<0.001 ? format(datum.value,'d') : ''","labelPadding":24,"labelFontSize":19,"title":"Angstrom factors α\u00a0\u00a0or I/F","titleFontSize":21,"titlePadding":-2}},"x2":{"field":"hi"},"y":{"field":"alt","type":"quantitative","scale":{"domain":[0,140],"nice":false,"zero":false},"axis":{"orient":"left","values":[0,5,10,15,20,25,30,35,40,45,50,55,60,65,70,75,80,85,90,95,100,105,110,115,120,125,130,135,140],"tickSize":{"condition":{"test":"datum.value % 20 === 0","value":-9},"value":-4},"labelExpr":"datum.value % 20 === 0 ? format(datum.value,'d') : ''","labelPadding":19,"labelFontSize":19,"labelFlush":true,"labelFlushOffset":2,"title":"Altitude(km)","titleFontSize":18,"titlePadding":10}}}},
 {"data":{"name":"bars"},"transform":[{"filter":"datum.p==='1480a' && datum.k==='t'"}],"mark":{"type":"rule","color":"black","strokeWidth":3.2},"encoding":{"x":{"field":"lo","type":"quantitative","scale":{"domain":[-4.2,0],"nice":false,"zero":false},"axis":null},"x2":{"field":"hi"},"y":{"field":"alt","type":"quantitative","scale":{"domain":[0,140],"nice":false,"zero":false},"axis":null}}},
 {"data":{"name":"lines"},"transform":[{"filter":"datum.p==='1480a'"}],"mark":{"type":"line","color":"black","strokeWidth":1.4},"encoding":{"x":{"field":"alpha","type":"quantitative","scale":{"domain":[-4.2,0],"nice":false,"zero":false},"axis":{"orient":"top","values":[-4.1,-4,-3.9,-3.8,-3.7,-3.6,-3.5,-3.4,-3.3,-3.2,-3.1,-3,-2.9,-2.8,-2.7,-2.6,-2.5,-2.4,-2.3,-2.2,-2.1,-2,-1.9,-1.8,-1.7,-1.6,-1.5,-1.4,-1.3,-1.2,-1.1,-1,-0.9,-0.8,-0.7,-0.6,-0.5,-0.4,-0.3,-0.2,-0.1,0],"tickSize":{"condition":{"test":"abs(datum.value-round(datum.value))<0.001","value":-9},"value":-4},"labels":false,"title":null}},"y":{"field":"alt","type":"quantitative","scale":{"domain":[0,140],"nice":false,"zero":false},"axis":{"orient":"right","values":[0,5,10,15,20,25,30,35,40,45,50,55,60,65,70,75,80,85,90,95,100,105,110,115,120,125,130,135,140],"tickSize":{"condition":{"test":"datum.value % 20 === 0","value":-9},"value":-4},"labels":false,"title":null}},"detail":{"field":"s"},"order":{"field":"alt","sort":"descending"}}},
 {"data":{"name":"pts"},"transform":[{"filter":"datum.p==='1480a'"}],"mark":{"type":"point","shape":"diamond","filled":false,"size":120,"strokeWidth":1.3,"color":"black","opacity":1},"encoding":{"x":{"field":"alpha","type":"quantitative","scale":{"domain":[-4.2,0],"nice":false,"zero":false},"axis":null},"y":{"field":"alt","type":"quantitative","scale":{"domain":[0,140],"nice":false,"zero":false},"axis":null}}},
 {"data":{"name":"labels"},"transform":[{"filter":"datum.p==='1480a'"}],"mark":{"type":"text","angle":270,"fontSize":16,"fontWeight":"normal","align":"center","baseline":"middle"},"encoding":{"x":{"field":"alpha","type":"quantitative","scale":{"domain":[-4.2,0],"nice":false,"zero":false},"axis":null},"y":{"field":"alt","type":"quantitative","scale":{"domain":[0,140],"nice":false,"zero":false},"axis":null},"text":{"field":"t"}}},
 {"data":{"name":"titles"},"transform":[{"filter":"datum.p==='1480a'"}],"mark":{"type":"text","fontSize":25,"fontWeight":200,"align":"right","baseline":"alphabetic"},"encoding":{"x":{"field":"alpha","type":"quantitative","scale":{"domain":[-4.2,0],"nice":false,"zero":false},"axis":null},"y":{"field":"alt","type":"quantitative","scale":{"domain":[0,140],"nice":false,"zero":false},"axis":null},"text":{"field":"t"}}}
],"resolve":{"axis":{"x":"independent","y":"independent"}}},
{"width":294,"height":335,"layer":[
 {"data":{"name":"bars"},"transform":[{"filter":"datum.p==='1480b' && datum.k==='e'"}],"mark":{"type":"rule","color":"black","strokeWidth":1.3},"encoding":{"x":{"field":"lo","type":"quantitative","scale":{"domain":[-4.2,0],"nice":false,"zero":false},"axis":{"orient":"bottom","values":[-4.1,-4,-3.9,-3.8,-3.7,-3.6,-3.5,-3.4,-3.3,-3.2,-3.1,-3,-2.9,-2.8,-2.7,-2.6,-2.5,-2.4,-2.3,-2.2,-2.1,-2,-1.9,-1.8,-1.7,-1.6,-1.5,-1.4,-1.3,-1.2,-1.1,-1,-0.9,-0.8,-0.7,-0.6,-0.5,-0.4,-0.3,-0.2,-0.1,0],"tickSize":{"condition":{"test":"abs(datum.value-round(datum.value))<0.001","value":-9},"value":-4},"labelExpr":"abs(datum.value-round(datum.value))<0.001 ? format(datum.value,'d') : ''","labelPadding":24,"labelFontSize":19,"title":"Angstrom factors α\u00a0\u00a0or I/F","titleFontSize":21,"titlePadding":-2}},"x2":{"field":"hi"},"y":{"field":"alt","type":"quantitative","scale":{"domain":[0,140],"nice":false,"zero":false},"axis":{"orient":"left","values":[0,5,10,15,20,25,30,35,40,45,50,55,60,65,70,75,80,85,90,95,100,105,110,115,120,125,130,135,140],"tickSize":{"condition":{"test":"datum.value % 20 === 0","value":-9},"value":-4},"labelExpr":"datum.value % 20 === 0 ? format(datum.value,'d') : ''","labelPadding":19,"labelFontSize":19,"labelFlush":true,"labelFlushOffset":2,"title":"Altitude(km)","titleFontSize":18,"titlePadding":10}}}},
 {"data":{"name":"bars"},"transform":[{"filter":"datum.p==='1480b' && datum.k==='t'"}],"mark":{"type":"rule","color":"black","strokeWidth":3.2},"encoding":{"x":{"field":"lo","type":"quantitative","scale":{"domain":[-4.2,0],"nice":false,"zero":false},"axis":null},"x2":{"field":"hi"},"y":{"field":"alt","type":"quantitative","scale":{"domain":[0,140],"nice":false,"zero":false},"axis":null}}},
 {"data":{"name":"lines"},"transform":[{"filter":"datum.p==='1480b'"}],"mark":{"type":"line","color":"black","strokeWidth":1.4},"encoding":{"x":{"field":"alpha","type":"quantitative","scale":{"domain":[-4.2,0],"nice":false,"zero":false},"axis":{"orient":"top","values":[-4.1,-4,-3.9,-3.8,-3.7,-3.6,-3.5,-3.4,-3.3,-3.2,-3.1,-3,-2.9,-2.8,-2.7,-2.6,-2.5,-2.4,-2.3,-2.2,-2.1,-2,-1.9,-1.8,-1.7,-1.6,-1.5,-1.4,-1.3,-1.2,-1.1,-1,-0.9,-0.8,-0.7,-0.6,-0.5,-0.4,-0.3,-0.2,-0.1,0],"tickSize":{"condition":{"test":"abs(datum.value-round(datum.value))<0.001","value":-9},"value":-4},"labels":false,"title":null}},"y":{"field":"alt","type":"quantitative","scale":{"domain":[0,140],"nice":false,"zero":false},"axis":{"orient":"right","values":[0,5,10,15,20,25,30,35,40,45,50,55,60,65,70,75,80,85,90,95,100,105,110,115,120,125,130,135,140],"tickSize":{"condition":{"test":"datum.value % 20 === 0","value":-9},"value":-4},"labels":false,"title":null}},"detail":{"field":"s"},"order":{"field":"alt","sort":"descending"}}},
 {"data":{"name":"pts"},"transform":[{"filter":"datum.p==='1480b'"}],"mark":{"type":"point","shape":"diamond","filled":false,"size":120,"strokeWidth":1.3,"color":"black","opacity":1},"encoding":{"x":{"field":"alpha","type":"quantitative","scale":{"domain":[-4.2,0],"nice":false,"zero":false},"axis":null},"y":{"field":"alt","type":"quantitative","scale":{"domain":[0,140],"nice":false,"zero":false},"axis":null}}},
 {"data":{"name":"labels"},"transform":[{"filter":"datum.p==='1480b'"}],"mark":{"type":"text","angle":270,"fontSize":16,"fontWeight":"normal","align":"center","baseline":"middle"},"encoding":{"x":{"field":"alpha","type":"quantitative","scale":{"domain":[-4.2,0],"nice":false,"zero":false},"axis":null},"y":{"field":"alt","type":"quantitative","scale":{"domain":[0,140],"nice":false,"zero":false},"axis":null},"text":{"field":"t"}}},
 {"data":{"name":"titles"},"transform":[{"filter":"datum.p==='1480b'"}],"mark":{"type":"text","fontSize":25,"fontWeight":200,"align":"right","baseline":"alphabetic"},"encoding":{"x":{"field":"alpha","type":"quantitative","scale":{"domain":[-4.2,0],"nice":false,"zero":false},"axis":null},"y":{"field":"alt","type":"quantitative","scale":{"domain":[0,140],"nice":false,"zero":false},"axis":null},"text":{"field":"t"}}}
],"resolve":{"axis":{"x":"independent","y":"independent"}}},
{"width":294,"height":335,"layer":[
 {"data":{"name":"bars"},"transform":[{"filter":"datum.p==='1487a' && datum.k==='e'"}],"mark":{"type":"rule","color":"black","strokeWidth":1.3},"encoding":{"x":{"field":"lo","type":"quantitative","scale":{"domain":[-4.2,0],"nice":false,"zero":false},"axis":{"orient":"bottom","values":[-4.1,-4,-3.9,-3.8,-3.7,-3.6,-3.5,-3.4,-3.3,-3.2,-3.1,-3,-2.9,-2.8,-2.7,-2.6,-2.5,-2.4,-2.3,-2.2,-2.1,-2,-1.9,-1.8,-1.7,-1.6,-1.5,-1.4,-1.3,-1.2,-1.1,-1,-0.9,-0.8,-0.7,-0.6,-0.5,-0.4,-0.3,-0.2,-0.1,0],"tickSize":{"condition":{"test":"abs(datum.value-round(datum.value))<0.001","value":-9},"value":-4},"labelExpr":"abs(datum.value-round(datum.value))<0.001 ? format(datum.value,'d') : ''","labelPadding":24,"labelFontSize":19,"title":"Angstrom factors α\u00a0\u00a0or I/F","titleFontSize":21,"titlePadding":-2}},"x2":{"field":"hi"},"y":{"field":"alt","type":"quantitative","scale":{"domain":[0,140],"nice":false,"zero":false},"axis":{"orient":"left","values":[0,5,10,15,20,25,30,35,40,45,50,55,60,65,70,75,80,85,90,95,100,105,110,115,120,125,130,135,140],"tickSize":{"condition":{"test":"datum.value % 20 === 0","value":-9},"value":-4},"labelExpr":"datum.value % 20 === 0 ? format(datum.value,'d') : ''","labelPadding":19,"labelFontSize":19,"labelFlush":true,"labelFlushOffset":2,"title":"Altitude(km)","titleFontSize":18,"titlePadding":10}}}},
 {"data":{"name":"bars"},"transform":[{"filter":"datum.p==='1487a' && datum.k==='t'"}],"mark":{"type":"rule","color":"black","strokeWidth":3.2},"encoding":{"x":{"field":"lo","type":"quantitative","scale":{"domain":[-4.2,0],"nice":false,"zero":false},"axis":null},"x2":{"field":"hi"},"y":{"field":"alt","type":"quantitative","scale":{"domain":[0,140],"nice":false,"zero":false},"axis":null}}},
 {"data":{"name":"lines"},"transform":[{"filter":"datum.p==='1487a'"}],"mark":{"type":"line","color":"black","strokeWidth":1.4},"encoding":{"x":{"field":"alpha","type":"quantitative","scale":{"domain":[-4.2,0],"nice":false,"zero":false},"axis":{"orient":"top","values":[-4.1,-4,-3.9,-3.8,-3.7,-3.6,-3.5,-3.4,-3.3,-3.2,-3.1,-3,-2.9,-2.8,-2.7,-2.6,-2.5,-2.4,-2.3,-2.2,-2.1,-2,-1.9,-1.8,-1.7,-1.6,-1.5,-1.4,-1.3,-1.2,-1.1,-1,-0.9,-0.8,-0.7,-0.6,-0.5,-0.4,-0.3,-0.2,-0.1,0],"tickSize":{"condition":{"test":"abs(datum.value-round(datum.value))<0.001","value":-9},"value":-4},"labels":false,"title":null}},"y":{"field":"alt","type":"quantitative","scale":{"domain":[0,140],"nice":false,"zero":false},"axis":{"orient":"right","values":[0,5,10,15,20,25,30,35,40,45,50,55,60,65,70,75,80,85,90,95,100,105,110,115,120,125,130,135,140],"tickSize":{"condition":{"test":"datum.value % 20 === 0","value":-9},"value":-4},"labels":false,"title":null}},"detail":{"field":"s"},"order":{"field":"alt","sort":"descending"}}},
 {"data":{"name":"pts"},"transform":[{"filter":"datum.p==='1487a'"}],"mark":{"type":"point","shape":"diamond","filled":false,"size":120,"strokeWidth":1.3,"color":"black","opacity":1},"encoding":{"x":{"field":"alpha","type":"quantitative","scale":{"domain":[-4.2,0],"nice":false,"zero":false},"axis":null},"y":{"field":"alt","type":"quantitative","scale":{"domain":[0,140],"nice":false,"zero":false},"axis":null}}},
 {"data":{"name":"labels"},"transform":[{"filter":"datum.p==='1487a'"}],"mark":{"type":"text","angle":270,"fontSize":16,"fontWeight":"normal","align":"center","baseline":"middle"},"encoding":{"x":{"field":"alpha","type":"quantitative","scale":{"domain":[-4.2,0],"nice":false,"zero":false},"axis":null},"y":{"field":"alt","type":"quantitative","scale":{"domain":[0,140],"nice":false,"zero":false},"axis":null},"text":{"field":"t"}}},
 {"data":{"name":"titles"},"transform":[{"filter":"datum.p==='1487a'"}],"mark":{"type":"text","fontSize":25,"fontWeight":200,"align":"right","baseline":"alphabetic"},"encoding":{"x":{"field":"alpha","type":"quantitative","scale":{"domain":[-4.2,0],"nice":false,"zero":false},"axis":null},"y":{"field":"alt","type":"quantitative","scale":{"domain":[0,140],"nice":false,"zero":false},"axis":null},"text":{"field":"t"}}}
],"resolve":{"axis":{"x":"independent","y":"independent"}}},
{"width":294,"height":335,"layer":[
 {"data":{"name":"bars"},"transform":[{"filter":"datum.p==='1493a' && datum.k==='e'"}],"mark":{"type":"rule","color":"black","strokeWidth":1.3},"encoding":{"x":{"field":"lo","type":"quantitative","scale":{"domain":[-4.2,0],"nice":false,"zero":false},"axis":{"orient":"bottom","values":[-4.1,-4,-3.9,-3.8,-3.7,-3.6,-3.5,-3.4,-3.3,-3.2,-3.1,-3,-2.9,-2.8,-2.7,-2.6,-2.5,-2.4,-2.3,-2.2,-2.1,-2,-1.9,-1.8,-1.7,-1.6,-1.5,-1.4,-1.3,-1.2,-1.1,-1,-0.9,-0.8,-0.7,-0.6,-0.5,-0.4,-0.3,-0.2,-0.1,0],"tickSize":{"condition":{"test":"abs(datum.value-round(datum.value))<0.001","value":-9},"value":-4},"labelExpr":"abs(datum.value-round(datum.value))<0.001 ? format(datum.value,'d') : ''","labelPadding":24,"labelFontSize":19,"title":"Angstrom factors α\u00a0\u00a0or I/F","titleFontSize":21,"titlePadding":-2}},"x2":{"field":"hi"},"y":{"field":"alt","type":"quantitative","scale":{"domain":[0,140],"nice":false,"zero":false},"axis":{"orient":"left","values":[0,5,10,15,20,25,30,35,40,45,50,55,60,65,70,75,80,85,90,95,100,105,110,115,120,125,130,135,140],"tickSize":{"condition":{"test":"datum.value % 20 === 0","value":-9},"value":-4},"labelExpr":"datum.value % 20 === 0 ? format(datum.value,'d') : ''","labelPadding":19,"labelFontSize":19,"labelFlush":true,"labelFlushOffset":2,"title":"Altitude(km)","titleFontSize":18,"titlePadding":10}}}},
 {"data":{"name":"bars"},"transform":[{"filter":"datum.p==='1493a' && datum.k==='t'"}],"mark":{"type":"rule","color":"black","strokeWidth":3.2},"encoding":{"x":{"field":"lo","type":"quantitative","scale":{"domain":[-4.2,0],"nice":false,"zero":false},"axis":null},"x2":{"field":"hi"},"y":{"field":"alt","type":"quantitative","scale":{"domain":[0,140],"nice":false,"zero":false},"axis":null}}},
 {"data":{"name":"lines"},"transform":[{"filter":"datum.p==='1493a'"}],"mark":{"type":"line","color":"black","strokeWidth":1.4},"encoding":{"x":{"field":"alpha","type":"quantitative","scale":{"domain":[-4.2,0],"nice":false,"zero":false},"axis":{"orient":"top","values":[-4.1,-4,-3.9,-3.8,-3.7,-3.6,-3.5,-3.4,-3.3,-3.2,-3.1,-3,-2.9,-2.8,-2.7,-2.6,-2.5,-2.4,-2.3,-2.2,-2.1,-2,-1.9,-1.8,-1.7,-1.6,-1.5,-1.4,-1.3,-1.2,-1.1,-1,-0.9,-0.8,-0.7,-0.6,-0.5,-0.4,-0.3,-0.2,-0.1,0],"tickSize":{"condition":{"test":"abs(datum.value-round(datum.value))<0.001","value":-9},"value":-4},"labels":false,"title":null}},"y":{"field":"alt","type":"quantitative","scale":{"domain":[0,140],"nice":false,"zero":false},"axis":{"orient":"right","values":[0,5,10,15,20,25,30,35,40,45,50,55,60,65,70,75,80,85,90,95,100,105,110,115,120,125,130,135,140],"tickSize":{"condition":{"test":"datum.value % 20 === 0","value":-9},"value":-4},"labels":false,"title":null}},"detail":{"field":"s"},"order":{"field":"alt","sort":"descending"}}},
 {"data":{"name":"pts"},"transform":[{"filter":"datum.p==='1493a'"}],"mark":{"type":"point","shape":"diamond","filled":false,"size":120,"strokeWidth":1.3,"color":"black","opacity":1},"encoding":{"x":{"field":"alpha","type":"quantitative","scale":{"domain":[-4.2,0],"nice":false,"zero":false},"axis":null},"y":{"field":"alt","type":"quantitative","scale":{"domain":[0,140],"nice":false,"zero":false},"axis":null}}},
 {"data":{"name":"labels"},"transform":[{"filter":"datum.p==='1493a'"}],"mark":{"type":"text","angle":270,"fontSize":16,"fontWeight":"normal","align":"center","baseline":"middle"},"encoding":{"x":{"field":"alpha","type":"quantitative","scale":{"domain":[-4.2,0],"nice":false,"zero":false},"axis":null},"y":{"field":"alt","type":"quantitative","scale":{"domain":[0,140],"nice":false,"zero":false},"axis":null},"text":{"field":"t"}}},
 {"data":{"name":"titles"},"transform":[{"filter":"datum.p==='1493a'"}],"mark":{"type":"text","fontSize":25,"fontWeight":200,"align":"right","baseline":"alphabetic"},"encoding":{"x":{"field":"alpha","type":"quantitative","scale":{"domain":[-4.2,0],"nice":false,"zero":false},"axis":null},"y":{"field":"alt","type":"quantitative","scale":{"domain":[0,140],"nice":false,"zero":false},"axis":null},"text":{"field":"t"}}}
],"resolve":{"axis":{"x":"independent","y":"independent"}}},
{"width":294,"height":335,"layer":[
 {"data":{"name":"bars"},"transform":[{"filter":"datum.p==='1493b' && datum.k==='e'"}],"mark":{"type":"rule","color":"black","strokeWidth":1.3},"encoding":{"x":{"field":"lo","type":"quantitative","scale":{"domain":[-4.2,0],"nice":false,"zero":false},"axis":{"orient":"bottom","values":[-4.1,-4,-3.9,-3.8,-3.7,-3.6,-3.5,-3.4,-3.3,-3.2,-3.1,-3,-2.9,-2.8,-2.7,-2.6,-2.5,-2.4,-2.3,-2.2,-2.1,-2,-1.9,-1.8,-1.7,-1.6,-1.5,-1.4,-1.3,-1.2,-1.1,-1,-0.9,-0.8,-0.7,-0.6,-0.5,-0.4,-0.3,-0.2,-0.1,0],"tickSize":{"condition":{"test":"abs(datum.value-round(datum.value))<0.001","value":-9},"value":-4},"labelExpr":"abs(datum.value-round(datum.value))<0.001 ? format(datum.value,'d') : ''","labelPadding":24,"labelFontSize":19,"title":"Angstrom factors α\u00a0\u00a0or I/F","titleFontSize":21,"titlePadding":-2}},"x2":{"field":"hi"},"y":{"field":"alt","type":"quantitative","scale":{"domain":[0,140],"nice":false,"zero":false},"axis":{"orient":"left","values":[0,5,10,15,20,25,30,35,40,45,50,55,60,65,70,75,80,85,90,95,100,105,110,115,120,125,130,135,140],"tickSize":{"condition":{"test":"datum.value % 20 === 0","value":-9},"value":-4},"labelExpr":"datum.value % 20 === 0 ? format(datum.value,'d') : ''","labelPadding":19,"labelFontSize":19,"labelFlush":true,"labelFlushOffset":2,"title":"Altitude(km)","titleFontSize":18,"titlePadding":10}}}},
 {"data":{"name":"bars"},"transform":[{"filter":"datum.p==='1493b' && datum.k==='t'"}],"mark":{"type":"rule","color":"black","strokeWidth":3.2},"encoding":{"x":{"field":"lo","type":"quantitative","scale":{"domain":[-4.2,0],"nice":false,"zero":false},"axis":null},"x2":{"field":"hi"},"y":{"field":"alt","type":"quantitative","scale":{"domain":[0,140],"nice":false,"zero":false},"axis":null}}},
 {"data":{"name":"lines"},"transform":[{"filter":"datum.p==='1493b'"}],"mark":{"type":"line","color":"black","strokeWidth":1.4},"encoding":{"x":{"field":"alpha","type":"quantitative","scale":{"domain":[-4.2,0],"nice":false,"zero":false},"axis":{"orient":"top","values":[-4.1,-4,-3.9,-3.8,-3.7,-3.6,-3.5,-3.4,-3.3,-3.2,-3.1,-3,-2.9,-2.8,-2.7,-2.6,-2.5,-2.4,-2.3,-2.2,-2.1,-2,-1.9,-1.8,-1.7,-1.6,-1.5,-1.4,-1.3,-1.2,-1.1,-1,-0.9,-0.8,-0.7,-0.6,-0.5,-0.4,-0.3,-0.2,-0.1,0],"tickSize":{"condition":{"test":"abs(datum.value-round(datum.value))<0.001","value":-9},"value":-4},"labels":false,"title":null}},"y":{"field":"alt","type":"quantitative","scale":{"domain":[0,140],"nice":false,"zero":false},"axis":{"orient":"right","values":[0,5,10,15,20,25,30,35,40,45,50,55,60,65,70,75,80,85,90,95,100,105,110,115,120,125,130,135,140],"tickSize":{"condition":{"test":"datum.value % 20 === 0","value":-9},"value":-4},"labels":false,"title":null}},"detail":{"field":"s"},"order":{"field":"alt","sort":"descending"}}},
 {"data":{"name":"pts"},"transform":[{"filter":"datum.p==='1493b'"}],"mark":{"type":"point","shape":"diamond","filled":false,"size":120,"strokeWidth":1.3,"color":"black","opacity":1},"encoding":{"x":{"field":"alpha","type":"quantitative","scale":{"domain":[-4.2,0],"nice":false,"zero":false},"axis":null},"y":{"field":"alt","type":"quantitative","scale":{"domain":[0,140],"nice":false,"zero":false},"axis":null}}},
 {"data":{"name":"labels"},"transform":[{"filter":"datum.p==='1493b'"}],"mark":{"type":"text","angle":270,"fontSize":16,"fontWeight":"normal","align":"center","baseline":"middle"},"encoding":{"x":{"field":"alpha","type":"quantitative","scale":{"domain":[-4.2,0],"nice":false,"zero":false},"axis":null},"y":{"field":"alt","type":"quantitative","scale":{"domain":[0,140],"nice":false,"zero":false},"axis":null},"text":{"field":"t"}}},
 {"data":{"name":"titles"},"transform":[{"filter":"datum.p==='1493b'"}],"mark":{"type":"text","fontSize":25,"fontWeight":200,"align":"right","baseline":"alphabetic"},"encoding":{"x":{"field":"alpha","type":"quantitative","scale":{"domain":[-4.2,0],"nice":false,"zero":false},"axis":null},"y":{"field":"alt","type":"quantitative","scale":{"domain":[0,140],"nice":false,"zero":false},"axis":null},"text":{"field":"t"}}}
],"resolve":{"axis":{"x":"independent","y":"independent"}}},
{"width":294,"height":335,"layer":[
 {"data":{"name":"bars"},"transform":[{"filter":"datum.p==='1496a' && datum.k==='e'"}],"mark":{"type":"rule","color":"black","strokeWidth":1.3},"encoding":{"x":{"field":"lo","type":"quantitative","scale":{"domain":[-4.2,0],"nice":false,"zero":false},"axis":{"orient":"bottom","values":[-4.1,-4,-3.9,-3.8,-3.7,-3.6,-3.5,-3.4,-3.3,-3.2,-3.1,-3,-2.9,-2.8,-2.7,-2.6,-2.5,-2.4,-2.3,-2.2,-2.1,-2,-1.9,-1.8,-1.7,-1.6,-1.5,-1.4,-1.3,-1.2,-1.1,-1,-0.9,-0.8,-0.7,-0.6,-0.5,-0.4,-0.3,-0.2,-0.1,0],"tickSize":{"condition":{"test":"abs(datum.value-round(datum.value))<0.001","value":-9},"value":-4},"labelExpr":"abs(datum.value-round(datum.value))<0.001 ? format(datum.value,'d') : ''","labelPadding":24,"labelFontSize":19,"title":"Angstrom factors α\u00a0\u00a0or I/F","titleFontSize":21,"titlePadding":-2}},"x2":{"field":"hi"},"y":{"field":"alt","type":"quantitative","scale":{"domain":[0,140],"nice":false,"zero":false},"axis":{"orient":"left","values":[0,5,10,15,20,25,30,35,40,45,50,55,60,65,70,75,80,85,90,95,100,105,110,115,120,125,130,135,140],"tickSize":{"condition":{"test":"datum.value % 20 === 0","value":-9},"value":-4},"labelExpr":"datum.value % 20 === 0 ? format(datum.value,'d') : ''","labelPadding":19,"labelFontSize":19,"labelFlush":true,"labelFlushOffset":2,"title":"Altitude(km)","titleFontSize":18,"titlePadding":10}}}},
 {"data":{"name":"bars"},"transform":[{"filter":"datum.p==='1496a' && datum.k==='t'"}],"mark":{"type":"rule","color":"black","strokeWidth":3.2},"encoding":{"x":{"field":"lo","type":"quantitative","scale":{"domain":[-4.2,0],"nice":false,"zero":false},"axis":null},"x2":{"field":"hi"},"y":{"field":"alt","type":"quantitative","scale":{"domain":[0,140],"nice":false,"zero":false},"axis":null}}},
 {"data":{"name":"lines"},"transform":[{"filter":"datum.p==='1496a'"}],"mark":{"type":"line","color":"black","strokeWidth":1.4},"encoding":{"x":{"field":"alpha","type":"quantitative","scale":{"domain":[-4.2,0],"nice":false,"zero":false},"axis":{"orient":"top","values":[-4.1,-4,-3.9,-3.8,-3.7,-3.6,-3.5,-3.4,-3.3,-3.2,-3.1,-3,-2.9,-2.8,-2.7,-2.6,-2.5,-2.4,-2.3,-2.2,-2.1,-2,-1.9,-1.8,-1.7,-1.6,-1.5,-1.4,-1.3,-1.2,-1.1,-1,-0.9,-0.8,-0.7,-0.6,-0.5,-0.4,-0.3,-0.2,-0.1,0],"tickSize":{"condition":{"test":"abs(datum.value-round(datum.value))<0.001","value":-9},"value":-4},"labels":false,"title":null}},"y":{"field":"alt","type":"quantitative","scale":{"domain":[0,140],"nice":false,"zero":false},"axis":{"orient":"right","values":[0,5,10,15,20,25,30,35,40,45,50,55,60,65,70,75,80,85,90,95,100,105,110,115,120,125,130,135,140],"tickSize":{"condition":{"test":"datum.value % 20 === 0","value":-9},"value":-4},"labels":false,"title":null}},"detail":{"field":"s"},"order":{"field":"alt","sort":"descending"}}},
 {"data":{"name":"pts"},"transform":[{"filter":"datum.p==='1496a'"}],"mark":{"type":"point","shape":"diamond","filled":false,"size":120,"strokeWidth":1.3,"color":"black","opacity":1},"encoding":{"x":{"field":"alpha","type":"quantitative","scale":{"domain":[-4.2,0],"nice":false,"zero":false},"axis":null},"y":{"field":"alt","type":"quantitative","scale":{"domain":[0,140],"nice":false,"zero":false},"axis":null}}},
 {"data":{"name":"labels"},"transform":[{"filter":"datum.p==='1496a'"}],"mark":{"type":"text","angle":270,"fontSize":16,"fontWeight":"normal","align":"center","baseline":"middle"},"encoding":{"x":{"field":"alpha","type":"quantitative","scale":{"domain":[-4.2,0],"nice":false,"zero":false},"axis":null},"y":{"field":"alt","type":"quantitative","scale":{"domain":[0,140],"nice":false,"zero":false},"axis":null},"text":{"field":"t"}}},
 {"data":{"name":"titles"},"transform":[{"filter":"datum.p==='1496a'"}],"mark":{"type":"text","fontSize":25,"fontWeight":200,"align":"right","baseline":"alphabetic"},"encoding":{"x":{"field":"alpha","type":"quantitative","scale":{"domain":[-4.2,0],"nice":false,"zero":false},"axis":null},"y":{"field":"alt","type":"quantitative","scale":{"domain":[0,140],"nice":false,"zero":false},"axis":null},"text":{"field":"t"}}}
],"resolve":{"axis":{"x":"independent","y":"independent"}}}
]
}
